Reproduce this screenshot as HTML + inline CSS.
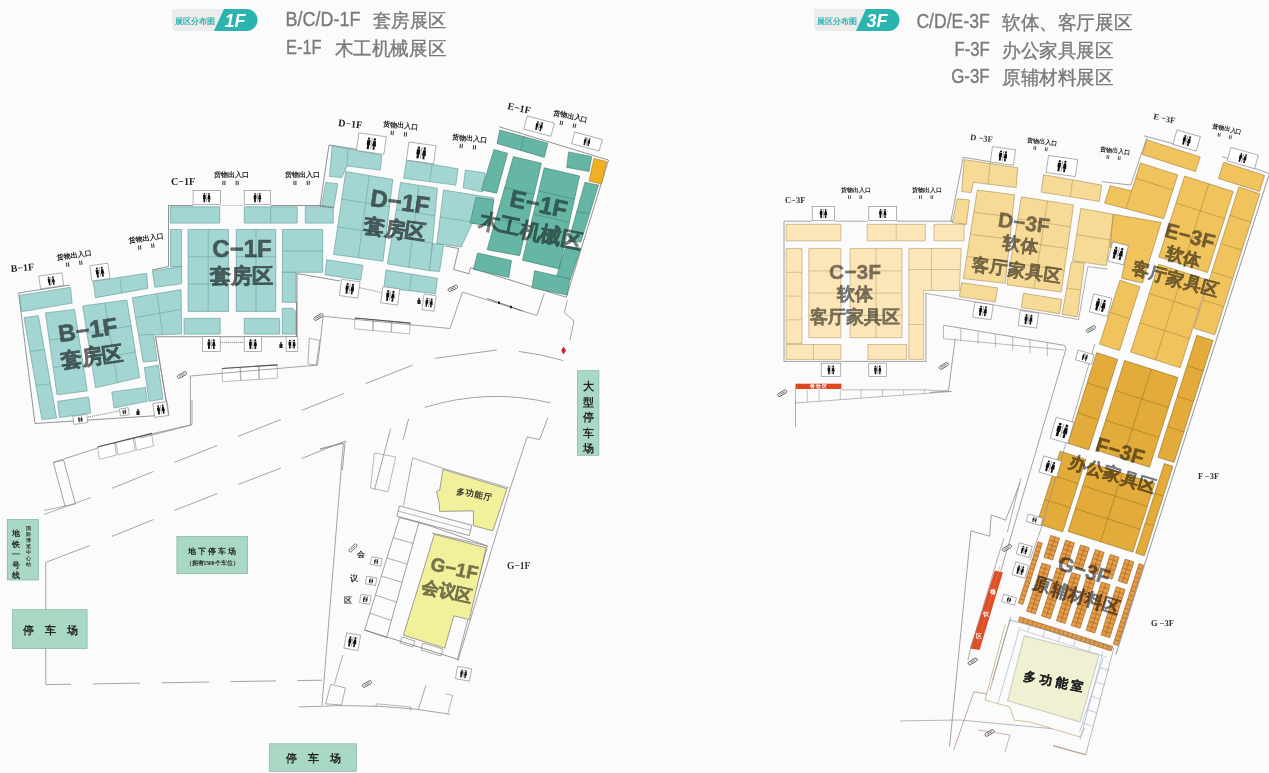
<!DOCTYPE html>
<html><head><meta charset="utf-8"><style>
html,body{margin:0;padding:0;background:#fbfbfb;}
body{width:1269px;height:773px;overflow:hidden;position:relative;font-family:"Liberation Sans",sans-serif;}
svg{position:absolute;left:0;top:0;}
</style></head><body>
<svg width="1269" height="773" viewBox="0 0 1269 773">
<rect x="0" y="0" width="1269" height="773" fill="#fbfbfb" stroke="none" stroke-width="0.6" />
<path d="M172,9 L228,9 L218,31 L177,31 Q172,31 172,26 L172,9 Z" fill="#ececec"/>
<path d="M214,31 L224,9 L246.5,9 A11,11 0 0 1 246.5,31 Z" fill="#2bb3ae"/>
<text x="195" y="23.5" font-size="8" fill="#2bb3ae" font-weight="bold" text-anchor="middle" font-family="Liberation Sans" >展区分布图</text>
<text x="235" y="27" font-size="18" fill="#ffffff" font-weight="bold" text-anchor="middle" font-family="Liberation Sans" font-style="italic">1F</text>
<text x="285.5" y="26" font-size="20.5" fill="#7a7a7a" font-weight="normal" text-anchor="start" font-family="Liberation Sans" stroke="#7a7a7a" stroke-width="0.35" textLength="75" lengthAdjust="spacingAndGlyphs">B/C/D-1F</text>
<text x="373" y="26.5" font-size="18.5" fill="#7a7a7a" font-weight="normal" text-anchor="start" font-family="Liberation Sans" stroke="#7a7a7a" stroke-width="0.35" textLength="73" lengthAdjust="spacingAndGlyphs">套房展区</text>
<text x="286" y="54" font-size="20.5" fill="#7a7a7a" font-weight="normal" text-anchor="start" font-family="Liberation Sans" stroke="#7a7a7a" stroke-width="0.35" textLength="35.5" lengthAdjust="spacingAndGlyphs">E-1F</text>
<text x="334.5" y="54.5" font-size="18.5" fill="#7a7a7a" font-weight="normal" text-anchor="start" font-family="Liberation Sans" stroke="#7a7a7a" stroke-width="0.35" textLength="111.7" lengthAdjust="spacingAndGlyphs">木工机械展区</text>
<path d="M814,9 L870,9 L860,31 L819,31 Q814,31 814,26 L814,9 Z" fill="#ececec"/>
<path d="M856,31 L866,9 L888.5,9 A11,11 0 0 1 888.5,31 Z" fill="#2bb3ae"/>
<text x="837" y="23.5" font-size="8" fill="#2bb3ae" font-weight="bold" text-anchor="middle" font-family="Liberation Sans" >展区分布图</text>
<text x="877" y="27" font-size="18" fill="#ffffff" font-weight="bold" text-anchor="middle" font-family="Liberation Sans" font-style="italic">3F</text>
<text x="916.4" y="28" font-size="20.5" fill="#7a7a7a" font-weight="normal" text-anchor="start" font-family="Liberation Sans" stroke="#7a7a7a" stroke-width="0.35" textLength="73.3" lengthAdjust="spacingAndGlyphs">C/D/E-3F</text>
<text x="1002" y="28.5" font-size="18.5" fill="#7a7a7a" font-weight="normal" text-anchor="start" font-family="Liberation Sans" stroke="#7a7a7a" stroke-width="0.35" textLength="130.3" lengthAdjust="spacingAndGlyphs">软体、客厅展区</text>
<text x="954.5" y="55.8" font-size="20.5" fill="#7a7a7a" font-weight="normal" text-anchor="start" font-family="Liberation Sans" stroke="#7a7a7a" stroke-width="0.35" textLength="35.2" lengthAdjust="spacingAndGlyphs">F-3F</text>
<text x="1002" y="56.5" font-size="18.5" fill="#7a7a7a" font-weight="normal" text-anchor="start" font-family="Liberation Sans" stroke="#7a7a7a" stroke-width="0.35" textLength="111.7" lengthAdjust="spacingAndGlyphs">办公家具展区</text>
<text x="951.2" y="82.7" font-size="20.5" fill="#7a7a7a" font-weight="normal" text-anchor="start" font-family="Liberation Sans" stroke="#7a7a7a" stroke-width="0.35" textLength="38.5" lengthAdjust="spacingAndGlyphs">G-3F</text>
<text x="1002" y="83.5" font-size="18.5" fill="#7a7a7a" font-weight="normal" text-anchor="start" font-family="Liberation Sans" stroke="#7a7a7a" stroke-width="0.35" textLength="111.7" lengthAdjust="spacingAndGlyphs">原辅材料展区</text>
<polyline points="18.6,293 35,423.5 168.5,414.9 155.5,336.7" fill="none" stroke="#777" stroke-width="0.8"/>
<polyline points="18.6,293 70,285" fill="none" stroke="#777" stroke-width="0.8"/>
<polygon points="19.5,295.4 70.5,287.3 72.2,303.1 21.5,311.7" fill="#a3d6d3" stroke="#5a9896" stroke-width="0.6" />
<polygon points="24,317.5 38.4,315.7 56.6,418 41.9,419.5" fill="#a3d6d3" stroke="#5a9896" stroke-width="0.6" />
<line x1="30" y1="351.5" x2="44.5" y2="349.8" stroke="#5a9896" stroke-width="0.5"/>
<line x1="35.9" y1="385.5" x2="50.5" y2="383.9" stroke="#5a9896" stroke-width="0.5"/>
<polygon points="45.4,312.9 74.5,309.4 87.3,390.9 57,394.8" fill="#a3d6d3" stroke="#5a9896" stroke-width="0.6" />
<line x1="49.3" y1="340.2" x2="78.8" y2="336.6" stroke="#5a9896" stroke-width="0.5"/>
<line x1="53.1" y1="367.5" x2="83" y2="363.7" stroke="#5a9896" stroke-width="0.5"/>
<polygon points="82.7,305.9 126.9,300.1 139.7,377.6 95.5,387.8" fill="#a3d6d3" stroke="#5a9896" stroke-width="0.6" />
<line x1="104.8" y1="303" x2="117.6" y2="382.7" stroke="#5a9896" stroke-width="0.5"/>
<line x1="87" y1="333.2" x2="131.2" y2="325.9" stroke="#5a9896" stroke-width="0.5"/>
<line x1="91.2" y1="360.5" x2="135.4" y2="351.8" stroke="#5a9896" stroke-width="0.5"/>
<polygon points="93.1,281.4 146.7,273.3 147.8,288.4 95.5,297.7" fill="#a3d6d3" stroke="#5a9896" stroke-width="0.6" />
<line x1="119.9" y1="277.4" x2="121.7" y2="293" stroke="#5a9896" stroke-width="0.5"/>
<polygon points="132.2,297.8 181.1,289.6 181.6,333.9 153.6,335.1 157.1,360.7 143.1,361.9" fill="#a3d6d3" stroke="#5a9896" stroke-width="0.6" />
<line x1="157.1" y1="294.3" x2="162.5" y2="333.9" stroke="#5a9896" stroke-width="0.5"/>
<line x1="135" y1="317.6" x2="181.1" y2="309.4" stroke="#5a9896" stroke-width="0.5"/>
<line x1="138.5" y1="335.1" x2="153.6" y2="334.4" stroke="#5a9896" stroke-width="0.5"/>
<polygon points="57.7,401.3 88.5,397.1 90.8,413 59.4,417.6" fill="#a3d6d3" stroke="#5a9896" stroke-width="0.6" />
<polygon points="111.8,392 145.5,387.4 147.2,401.3 114.1,407.9" fill="#a3d6d3" stroke="#5a9896" stroke-width="0.6" />
<polygon points="144.4,367.6 158.3,365.2 163,399 149,401.3" fill="#a3d6d3" stroke="#5a9896" stroke-width="0.6" />
<polygon points="152.4,271 181.6,266.3 181.6,283.8 154.8,287.3" fill="#a3d6d3" stroke="#5a9896" stroke-width="0.6" />
<g transform="rotate(-8 51.2 280.9)">
<rect x="39.6" y="274.4" width="23.3" height="12.9" fill="#ffffff" stroke="#808080" stroke-width="0.6" />
<circle cx="49.1" cy="277.4" r="0.9" fill="#111"/>
<path d="M47.9,278.6 h2.4 v3.6 h-0.4 v3 h-1.5 v-3 h-0.4 Z" fill="#111"/>
<circle cx="53.4" cy="277.4" r="0.9" fill="#111"/>
<path d="M52.5,278.6 L54.2,278.6 L54.8,282.6 L51.9,282.6 Z" fill="#111"/>
<rect x="52.7" y="282.6" width="1.4" height="2.6" fill="#111"/>
<line x1="51.2" y1="276.6" x2="51.2" y2="285.1" stroke="#333" stroke-width="0.4"/>
</g>
<g transform="rotate(-8 99.9 272.1)">
<rect x="90.8" y="264.4" width="18.2" height="15.4" fill="#ffffff" stroke="#808080" stroke-width="0.6" />
<circle cx="97.4" cy="268" r="1" fill="#111"/>
<path d="M95.9,269.4 h2.8 v4.3 h-0.5 v3.6 h-1.8 v-3.6 h-0.5 Z" fill="#111"/>
<circle cx="102.4" cy="268" r="1" fill="#111"/>
<path d="M101.4,269.4 L103.5,269.4 L104.2,274.1 L100.7,274.1 Z" fill="#111"/>
<rect x="101.6" y="274.1" width="1.6" height="3" fill="#111"/>
<line x1="99.9" y1="267" x2="99.9" y2="277.2" stroke="#333" stroke-width="0.4"/>
</g>
<g transform="rotate(-8 80.3 419.4)">
<rect x="73.3" y="415.3" width="14" height="8.2" fill="#ffffff" stroke="#808080" stroke-width="0.6" />
<circle cx="78.9" cy="417.2" r="0.5" fill="#111"/>
<path d="M78.2,417.9 h1.5 v2.3 h-0.3 v1.9 h-1 v-1.9 h-0.3 Z" fill="#111"/>
<circle cx="81.7" cy="417.2" r="0.5" fill="#111"/>
<path d="M81.1,417.9 L82.2,417.9 L82.6,420.5 L80.7,420.5 Z" fill="#111"/>
<rect x="81.2" y="420.5" width="0.9" height="1.6" fill="#111"/>
<line x1="80.3" y1="416.7" x2="80.3" y2="422.1" stroke="#333" stroke-width="0.4"/>
</g>
<g transform="rotate(-8 124.4 411.8)">
<rect x="119.9" y="408.3" width="8.9" height="7" fill="#ffffff" stroke="#808080" stroke-width="0.6" />
<circle cx="123.2" cy="410" r="0.5" fill="#111"/>
<path d="M122.5,410.6 h1.3 v1.9 h-0.2 v1.6 h-0.8 v-1.6 h-0.2 Z" fill="#111"/>
<circle cx="125.5" cy="410" r="0.5" fill="#111"/>
<path d="M125,410.6 L126,410.6 L126.3,412.7 L124.7,412.7 Z" fill="#111"/>
<rect x="125.1" y="412.7" width="0.7" height="1.4" fill="#111"/>
<line x1="124.4" y1="409.5" x2="124.4" y2="414.1" stroke="#333" stroke-width="0.4"/>
</g>
<g transform="rotate(-8 160.9 409.5)">
<rect x="153.7" y="402.5" width="14.4" height="14" fill="#ffffff" stroke="#808080" stroke-width="0.6" />
<circle cx="158.6" cy="405.8" r="0.9" fill="#111"/>
<path d="M157.3,407 h2.6 v3.9 h-0.5 v3.2 h-1.7 v-3.2 h-0.5 Z" fill="#111"/>
<circle cx="163.2" cy="405.8" r="0.9" fill="#111"/>
<path d="M162.3,407 L164.1,407 L164.8,411.3 L161.6,411.3 Z" fill="#111"/>
<rect x="162.5" y="411.3" width="1.5" height="2.8" fill="#111"/>
<line x1="160.9" y1="404.9" x2="160.9" y2="414.1" stroke="#333" stroke-width="0.4"/>
</g>
<text x="11" y="272" font-size="10" fill="#222" font-weight="bold" text-anchor="start" font-family="Liberation Serif" transform="rotate(-5 11 272)" >B−1F</text>
<g transform="rotate(-8 57 260)">
<text x="57" y="260" font-size="7" fill="#222" font-weight="bold" font-family="Liberation Serif">货物出入口</text>
<rect x="65.4" y="263.9" width="1" height="4.3" fill="#333"/>
<rect x="67.4" y="263.9" width="1" height="4.3" fill="#333"/>
<rect x="78.7" y="263.9" width="1" height="4.3" fill="#333"/>
<rect x="80.7" y="263.9" width="1" height="4.3" fill="#333"/>
</g>
<g transform="rotate(-8 129 243)">
<text x="129" y="243" font-size="7" fill="#222" font-weight="bold" font-family="Liberation Serif">货物出入口</text>
<rect x="137.4" y="246.8" width="1" height="4.3" fill="#333"/>
<rect x="139.4" y="246.8" width="1" height="4.3" fill="#333"/>
<rect x="150.7" y="246.8" width="1" height="4.3" fill="#333"/>
<rect x="152.7" y="246.8" width="1" height="4.3" fill="#333"/>
</g>
<text x="112" y="318" font-size="1" fill="#6e6e6e" font-weight="normal" text-anchor="start" font-family="Liberation Sans" ></text>
<text x="89" y="338" font-size="24" fill="#6a6a6a" font-weight="bold" text-anchor="middle" font-family="Liberation Sans" transform="rotate(-8 89 338)" stroke="#6a6a6a" stroke-width="0.6" style="mix-blend-mode:multiply">B−1F</text>
<text x="93" y="364" font-size="21" fill="#6a6a6a" font-weight="bold" text-anchor="middle" font-family="Liberation Sans" transform="rotate(-8 93 364)" stroke="#6a6a6a" stroke-width="0.6" style="mix-blend-mode:multiply">套房区</text>
<polyline points="168.5,205.5 168.5,266.5 152,270" fill="none" stroke="#777" stroke-width="0.8"/>
<polyline points="168.5,205.5 193,205.5" fill="none" stroke="#777" stroke-width="0.8"/>
<polyline points="221,205.5 244,205.5" fill="none" stroke="#bbb" stroke-width="0.6"/>
<polyline points="271,205.5 334,205.5" fill="none" stroke="#777" stroke-width="0.8"/>
<polygon points="170.3,206.8 219.8,206.8 219.8,223.1 170.3,223.1" fill="#a3d6d3" stroke="#5a9896" stroke-width="0.6" />
<polygon points="244.2,206.8 297.2,206.8 297.2,223.1 244.2,223.1" fill="#a3d6d3" stroke="#5a9896" stroke-width="0.6" />
<line x1="270.7" y1="206.8" x2="270.7" y2="223.1" stroke="#5a9896" stroke-width="0.5"/>
<polygon points="305.3,206.8 333.3,206.8 333.3,223.1 305.3,223.1" fill="#a3d6d3" stroke="#5a9896" stroke-width="0.6" />
<polygon points="170.5,229.5 181.5,229.5 181.5,266.5 170.5,266.5" fill="#a3d6d3" stroke="#5a9896" stroke-width="0.6" />
<polygon points="188.1,229.5 228.4,229.5 228.4,311.4 188.1,311.4" fill="#a3d6d3" stroke="#5a9896" stroke-width="0.6" />
<line x1="208.2" y1="229.5" x2="208.2" y2="311.4" stroke="#5a9896" stroke-width="0.5"/>
<line x1="188.1" y1="256.8" x2="228.4" y2="256.8" stroke="#5a9896" stroke-width="0.5"/>
<line x1="188.1" y1="284.1" x2="228.4" y2="284.1" stroke="#5a9896" stroke-width="0.5"/>
<polygon points="236.2,229.5 275.8,229.5 275.8,311.4 236.2,311.4" fill="#a3d6d3" stroke="#5a9896" stroke-width="0.6" />
<line x1="256" y1="229.5" x2="256" y2="311.4" stroke="#5a9896" stroke-width="0.5"/>
<line x1="236.2" y1="256.8" x2="275.8" y2="256.8" stroke="#5a9896" stroke-width="0.5"/>
<line x1="236.2" y1="284.1" x2="275.8" y2="284.1" stroke="#5a9896" stroke-width="0.5"/>
<polygon points="282.4,229.5 322.7,229.5 322.7,272.3 282.4,272.3" fill="#a3d6d3" stroke="#5a9896" stroke-width="0.6" />
<line x1="282.4" y1="250.9" x2="322.7" y2="250.9" stroke="#5a9896" stroke-width="0.5"/>
<polygon points="282.3,272.3 296,272.3 296,302.3 282.3,302.3" fill="#a3d6d3" stroke="#5a9896" stroke-width="0.6" />
<polygon points="184,318.4 220.2,318.4 220.2,334.1 184,334.1" fill="#a3d6d3" stroke="#5a9896" stroke-width="0.6" />
<polygon points="244.2,318.4 279.7,318.4 279.7,334.1 244.2,334.1" fill="#a3d6d3" stroke="#5a9896" stroke-width="0.6" />
<polygon points="282.3,308.3 293,308.3 296,312 296,334.1 282.3,334.1" fill="#a3d6d3" stroke="#5a9896" stroke-width="0.6" />
<polyline points="155.5,336.7 296.5,336.7 296.5,302" fill="none" stroke="#777" stroke-width="0.8"/>
<g>
<rect x="193.1" y="190.5" width="27.2" height="14.1" fill="#ffffff" stroke="#808080" stroke-width="0.6" />
<circle cx="204.4" cy="193.8" r="0.9" fill="#111"/>
<path d="M203.1,195 h2.6 v3.9 h-0.5 v3.3 h-1.7 v-3.3 h-0.5 Z" fill="#111"/>
<circle cx="209" cy="193.8" r="0.9" fill="#111"/>
<path d="M208.1,195 L210,195 L210.6,199.4 L207.4,199.4 Z" fill="#111"/>
<rect x="208.3" y="199.4" width="1.5" height="2.8" fill="#111"/>
<line x1="206.7" y1="192.9" x2="206.7" y2="202.2" stroke="#333" stroke-width="0.4"/>
</g>
<g>
<rect x="244.2" y="190.5" width="26.4" height="14.1" fill="#ffffff" stroke="#808080" stroke-width="0.6" />
<circle cx="255.1" cy="193.8" r="0.9" fill="#111"/>
<path d="M253.8,195 h2.6 v3.9 h-0.5 v3.3 h-1.7 v-3.3 h-0.5 Z" fill="#111"/>
<circle cx="259.7" cy="193.8" r="0.9" fill="#111"/>
<path d="M258.8,195 L260.7,195 L261.3,199.4 L258.1,199.4 Z" fill="#111"/>
<rect x="259" y="199.4" width="1.5" height="2.8" fill="#111"/>
<line x1="257.4" y1="192.9" x2="257.4" y2="202.2" stroke="#333" stroke-width="0.4"/>
</g>
<g>
<rect x="202.6" y="336.7" width="17.6" height="14.8" fill="#ffffff" stroke="#808080" stroke-width="0.6" />
<circle cx="209" cy="340.2" r="1" fill="#111"/>
<path d="M207.6,341.5 h2.7 v4.1 h-0.5 v3.4 h-1.8 v-3.4 h-0.5 Z" fill="#111"/>
<circle cx="213.8" cy="340.2" r="1" fill="#111"/>
<path d="M212.9,341.5 L214.8,341.5 L215.5,346.1 L212.2,346.1 Z" fill="#111"/>
<rect x="213.1" y="346.1" width="1.6" height="2.9" fill="#111"/>
<line x1="211.4" y1="339.2" x2="211.4" y2="349" stroke="#333" stroke-width="0.4"/>
</g>
<g>
<rect x="244.2" y="336.7" width="17.4" height="14.8" fill="#ffffff" stroke="#808080" stroke-width="0.6" />
<circle cx="250.5" cy="340.2" r="1" fill="#111"/>
<path d="M249.1,341.5 h2.7 v4.1 h-0.5 v3.4 h-1.8 v-3.4 h-0.5 Z" fill="#111"/>
<circle cx="255.3" cy="340.2" r="1" fill="#111"/>
<path d="M254.4,341.5 L256.3,341.5 L257,346.1 L253.7,346.1 Z" fill="#111"/>
<rect x="254.6" y="346.1" width="1.6" height="2.9" fill="#111"/>
<line x1="252.9" y1="339.2" x2="252.9" y2="349" stroke="#333" stroke-width="0.4"/>
</g>
<g>
<rect x="286.1" y="336.7" width="11.7" height="14.8" fill="#ffffff" stroke="#808080" stroke-width="0.6" />
<circle cx="289.8" cy="340.6" r="0.9" fill="#111"/>
<path d="M288.5,341.7 h2.5 v3.7 h-0.4 v3.1 h-1.6 v-3.1 h-0.4 Z" fill="#111"/>
<circle cx="294.1" cy="340.6" r="0.9" fill="#111"/>
<path d="M293.3,341.7 L295,341.7 L295.6,345.9 L292.7,345.9 Z" fill="#111"/>
<rect x="293.4" y="345.9" width="1.4" height="2.6" fill="#111"/>
<line x1="292" y1="339.7" x2="292" y2="348.5" stroke="#333" stroke-width="0.4"/>
</g>
<text x="171" y="185" font-size="10" fill="#222" font-weight="bold" text-anchor="start" font-family="Liberation Serif" >C−1F</text>
<g>
<text x="214" y="177" font-size="7" fill="#222" font-weight="bold" font-family="Liberation Serif">货物出入口</text>
<rect x="222.4" y="180.8" width="1" height="4.3" fill="#333"/>
<rect x="224.4" y="180.8" width="1" height="4.3" fill="#333"/>
<rect x="235.7" y="180.8" width="1" height="4.3" fill="#333"/>
<rect x="237.7" y="180.8" width="1" height="4.3" fill="#333"/>
</g>
<g>
<text x="285" y="177" font-size="7" fill="#222" font-weight="bold" font-family="Liberation Serif">货物出入口</text>
<rect x="293.4" y="180.8" width="1" height="4.3" fill="#333"/>
<rect x="295.4" y="180.8" width="1" height="4.3" fill="#333"/>
<rect x="306.7" y="180.8" width="1" height="4.3" fill="#333"/>
<rect x="308.7" y="180.8" width="1" height="4.3" fill="#333"/>
</g>
<text x="242" y="257" font-size="24" fill="#6a6a6a" font-weight="bold" text-anchor="middle" font-family="Liberation Sans" stroke="#6a6a6a" stroke-width="0.6" style="mix-blend-mode:multiply">C−1F</text>
<text x="241" y="283" font-size="21" fill="#6a6a6a" font-weight="bold" text-anchor="middle" font-family="Liberation Sans" stroke="#6a6a6a" stroke-width="0.6" style="mix-blend-mode:multiply">套房区</text>
<polyline points="358,149.5 329,145 320,206 334,208" fill="none" stroke="#777" stroke-width="0.8"/>
<polygon points="332.2,145.7 381.9,155.2 380.3,170.1 347.2,166.1 341.7,177.5 329.5,176.4" fill="#a3d6d3" stroke="#5a9896" stroke-width="0.6" />
<line x1="348" y1="148.7" x2="347" y2="166" stroke="#5a9896" stroke-width="0.5"/>
<polygon points="325.7,182.4 337.9,183.7 333.9,206.8 321.6,205.5" fill="#a3d6d3" stroke="#5a9896" stroke-width="0.6" />
<polygon points="345.8,171.5 392.8,179.6 383,261.2 333.6,254.4" fill="#a3d6d3" stroke="#5a9896" stroke-width="0.6" />
<line x1="369.3" y1="175.6" x2="358.3" y2="257.8" stroke="#5a9896" stroke-width="0.5"/>
<line x1="341.7" y1="199.1" x2="389.5" y2="206.8" stroke="#5a9896" stroke-width="0.5"/>
<line x1="337.7" y1="226.8" x2="386.3" y2="234" stroke="#5a9896" stroke-width="0.5"/>
<polygon points="400.7,182.4 437.4,188.3 430,270.7 387.4,263.9" fill="#a3d6d3" stroke="#5a9896" stroke-width="0.6" />
<line x1="419" y1="185.4" x2="408.7" y2="267.3" stroke="#5a9896" stroke-width="0.5"/>
<line x1="396.3" y1="209.6" x2="434.9" y2="215.8" stroke="#5a9896" stroke-width="0.5"/>
<line x1="391.8" y1="236.7" x2="432.5" y2="243.2" stroke="#5a9896" stroke-width="0.5"/>
<polygon points="406.4,160.1 458,168.8 455.8,185.1 403.7,178.3" fill="#a3d6d3" stroke="#5a9896" stroke-width="0.6" />
<line x1="432.2" y1="164.4" x2="429.8" y2="181.7" stroke="#5a9896" stroke-width="0.5"/>
<polygon points="465.3,170.1 485.2,172.9 482.5,191.9 463.2,187.8" fill="#a3d6d3" stroke="#5a9896" stroke-width="0.6" />
<polygon points="443.6,190 493.9,198.1 489.8,225.8 472.1,223.1 461.3,247 436.8,243.5" fill="#a3d6d3" stroke="#5a9896" stroke-width="0.6" />
<line x1="440" y1="217" x2="472" y2="222" stroke="#5a9896" stroke-width="0.5"/>
<polygon points="432.7,243.5 443.6,244.8 439.5,271.5 429.2,270.7" fill="#a3d6d3" stroke="#5a9896" stroke-width="0.6" />
<polygon points="326.8,259.8 362.9,265.2 360.7,280.2 324.9,274.7" fill="#a3d6d3" stroke="#5a9896" stroke-width="0.6" />
<polygon points="386,270.1 437.4,278.3 435.5,293.7 383.8,287.8" fill="#a3d6d3" stroke="#5a9896" stroke-width="0.6" />
<line x1="411.7" y1="274.2" x2="409.6" y2="290.8" stroke="#5a9896" stroke-width="0.5"/>
<g transform="rotate(8 371.4 143.7)">
<rect x="357.5" y="134.8" width="27.7" height="17.7" fill="#ffffff" stroke="#808080" stroke-width="0.6" />
<circle cx="368.4" cy="139" r="1.2" fill="#111"/>
<path d="M366.8,140.5 h3.3 v4.9 h-0.6 v4.1 h-2.1 v-4.1 h-0.6 Z" fill="#111"/>
<circle cx="374.3" cy="139" r="1.2" fill="#111"/>
<path d="M373.1,140.5 L375.4,140.5 L376.3,146 L372.3,146 Z" fill="#111"/>
<rect x="373.3" y="146" width="1.9" height="3.5" fill="#111"/>
<line x1="371.4" y1="137.8" x2="371.4" y2="149.5" stroke="#333" stroke-width="0.4"/>
</g>
<g transform="rotate(8 421.2 152.9)">
<rect x="407.5" y="143.8" width="27.4" height="18.2" fill="#ffffff" stroke="#808080" stroke-width="0.6" />
<circle cx="418.2" cy="148.1" r="1.2" fill="#111"/>
<path d="M416.5,149.7 h3.4 v5 h-0.6 v4.2 h-2.2 v-4.2 h-0.6 Z" fill="#111"/>
<circle cx="424.2" cy="148.1" r="1.2" fill="#111"/>
<path d="M423,149.7 L425.4,149.7 L426.2,155.3 L422.2,155.3 Z" fill="#111"/>
<rect x="423.2" y="155.3" width="1.9" height="3.6" fill="#111"/>
<line x1="421.2" y1="146.9" x2="421.2" y2="158.9" stroke="#333" stroke-width="0.4"/>
</g>
<g transform="rotate(8 349.7 288.7)">
<rect x="340.4" y="280.5" width="18.6" height="16.4" fill="#ffffff" stroke="#808080" stroke-width="0.6" />
<circle cx="347" cy="284.4" r="1.1" fill="#111"/>
<path d="M345.5,285.8 h3 v4.5 h-0.5 v3.8 h-1.9 v-3.8 h-0.5 Z" fill="#111"/>
<circle cx="352.4" cy="284.4" r="1.1" fill="#111"/>
<path d="M351.3,285.8 L353.5,285.8 L354.2,290.9 L350.6,290.9 Z" fill="#111"/>
<rect x="351.5" y="290.9" width="1.7" height="3.2" fill="#111"/>
<line x1="349.7" y1="283.3" x2="349.7" y2="294.1" stroke="#333" stroke-width="0.4"/>
</g>
<g transform="rotate(8 390.2 295.9)">
<rect x="381.7" y="287.7" width="17.1" height="16.3" fill="#ffffff" stroke="#808080" stroke-width="0.6" />
<circle cx="387.6" cy="291.5" r="1.1" fill="#111"/>
<path d="M386.1,292.9 h3 v4.5 h-0.5 v3.8 h-1.9 v-3.8 h-0.5 Z" fill="#111"/>
<circle cx="392.9" cy="291.5" r="1.1" fill="#111"/>
<path d="M391.9,292.9 L394,292.9 L394.8,298 L391.1,298 Z" fill="#111"/>
<rect x="392.1" y="298" width="1.7" height="3.2" fill="#111"/>
<line x1="390.2" y1="290.5" x2="390.2" y2="301.2" stroke="#333" stroke-width="0.4"/>
</g>
<g transform="rotate(8 429.1 302.6)">
<rect x="423" y="294.8" width="12.1" height="15.6" fill="#ffffff" stroke="#808080" stroke-width="0.6" />
<circle cx="426.8" cy="299" r="0.9" fill="#111"/>
<path d="M425.5,300.1 h2.5 v3.8 h-0.5 v3.2 h-1.6 v-3.2 h-0.5 Z" fill="#111"/>
<circle cx="431.3" cy="299" r="0.9" fill="#111"/>
<path d="M430.4,300.1 L432.2,300.1 L432.9,304.4 L429.8,304.4 Z" fill="#111"/>
<rect x="430.6" y="304.4" width="1.5" height="2.7" fill="#111"/>
<line x1="429.1" y1="298.1" x2="429.1" y2="307.1" stroke="#333" stroke-width="0.4"/>
</g>
<g fill="#222"><circle cx="419" cy="299" r="0.9"/><rect x="417.4" y="300" width="3.2" height="4"/></g>
<polyline points="359.6,287.7 381.7,292.7" fill="none" stroke="#555" stroke-width="0.8" stroke-dasharray="1,1"/>
<polyline points="297,273.5 340,281" fill="none" stroke="#777" stroke-width="0.8"/>
<polyline points="297,273.5 297,336.7" fill="none" stroke="#777" stroke-width="0.8"/>
<text x="338" y="126" font-size="10" fill="#222" font-weight="bold" text-anchor="start" font-family="Liberation Serif" transform="rotate(6 338 126)" >D−1F</text>
<g transform="rotate(6 383 126)">
<text x="383" y="126" font-size="7" fill="#222" font-weight="bold" font-family="Liberation Serif">货物出入口</text>
<rect x="391.4" y="129.8" width="1" height="4.3" fill="#333"/>
<rect x="393.4" y="129.8" width="1" height="4.3" fill="#333"/>
<rect x="404.7" y="129.8" width="1" height="4.3" fill="#333"/>
<rect x="406.7" y="129.8" width="1" height="4.3" fill="#333"/>
</g>
<g transform="rotate(6 452 139)">
<text x="452" y="139" font-size="7" fill="#222" font-weight="bold" font-family="Liberation Serif">货物出入口</text>
<rect x="460.4" y="142.8" width="1" height="4.3" fill="#333"/>
<rect x="462.4" y="142.8" width="1" height="4.3" fill="#333"/>
<rect x="473.7" y="142.8" width="1" height="4.3" fill="#333"/>
<rect x="475.7" y="142.8" width="1" height="4.3" fill="#333"/>
</g>
<text x="399" y="210" font-size="24" fill="#6a6a6a" font-weight="bold" text-anchor="middle" font-family="Liberation Sans" transform="rotate(8 399 210)" stroke="#6a6a6a" stroke-width="0.6" style="mix-blend-mode:multiply">D−1F</text>
<text x="394" y="236" font-size="21" fill="#6a6a6a" font-weight="bold" text-anchor="middle" font-family="Liberation Sans" transform="rotate(8 394 236)" stroke="#6a6a6a" stroke-width="0.6" style="mix-blend-mode:multiply">套房区</text>
<polyline points="499,126.7 608.5,160.1 566.3,297.3 470.5,267.8 468.8,273.7 453.6,269.5 458.7,248.5 445.2,246" fill="none" stroke="#777" stroke-width="0.8"/>
<polygon points="499.8,130 547.9,143.2 544.3,157.4 497,143.4" fill="#66b6a5" stroke="#3d7a6c" stroke-width="0.6" />
<line x1="523.9" y1="136.6" x2="520.6" y2="150.4" stroke="#3d7a6c" stroke-width="0.5"/>
<polygon points="494,149.5 507.6,153.3 496.6,193.2 481.6,190" fill="#66b6a5" stroke="#3d7a6c" stroke-width="0.6" />
<polygon points="513.4,156.6 541.4,163.3 519.7,255.7 487.1,249.7" fill="#66b6a5" stroke="#3d7a6c" stroke-width="0.6" />
<line x1="504.6" y1="187.6" x2="534.2" y2="194.1" stroke="#3d7a6c" stroke-width="0.5"/>
<line x1="495.9" y1="218.7" x2="526.9" y2="224.9" stroke="#3d7a6c" stroke-width="0.5"/>
<polygon points="476,197.3 493.9,200 489.8,225.8 470,223" fill="#66b6a5" stroke="#3d7a6c" stroke-width="0.6" />
<polygon points="544.2,167.8 579.6,176 559.2,268.9 522.5,260.2" fill="#66b6a5" stroke="#3d7a6c" stroke-width="0.6" />
<line x1="538.8" y1="190.9" x2="574.5" y2="199.2" stroke="#3d7a6c" stroke-width="0.5"/>
<line x1="533.4" y1="214" x2="569.4" y2="222.4" stroke="#3d7a6c" stroke-width="0.5"/>
<line x1="527.9" y1="237.1" x2="564.3" y2="245.7" stroke="#3d7a6c" stroke-width="0.5"/>
<polygon points="584.9,182.4 598.5,185.1 580.8,242.1 568.6,240.9" fill="#66b6a5" stroke="#3d7a6c" stroke-width="0.6" />
<line x1="576.8" y1="211.7" x2="589.6" y2="213.6" stroke="#3d7a6c" stroke-width="0.5"/>
<polygon points="565.9,246.2 580.8,248.1 569.9,280.2 556.3,277.4" fill="#66b6a5" stroke="#3d7a6c" stroke-width="0.6" />
<polygon points="477.6,253 511.5,260.6 508.8,277.4 473.5,269.3" fill="#66b6a5" stroke="#3d7a6c" stroke-width="0.6" />
<polygon points="534.6,270.7 569.9,278.8 567.2,295.1 531.9,287.8" fill="#66b6a5" stroke="#3d7a6c" stroke-width="0.6" />
<polygon points="568.6,151.9 591.7,156.6 589,171.5 566.7,167.4" fill="#66b6a5" stroke="#3d7a6c" stroke-width="0.6" />
<polygon points="594,158.5 606.5,161.5 601.5,184 589,181" fill="#f0b024" stroke="#b07a10" stroke-width="0.6" />
<g transform="rotate(15 539.1 126.1)">
<rect x="525.1" y="119.3" width="28" height="13.6" fill="#ffffff" stroke="#808080" stroke-width="0.6" />
<circle cx="536.9" cy="122.5" r="0.9" fill="#111"/>
<path d="M535.6,123.7 h2.5 v3.8 h-0.4 v3.1 h-1.6 v-3.1 h-0.4 Z" fill="#111"/>
<circle cx="541.3" cy="122.5" r="0.9" fill="#111"/>
<path d="M540.4,123.7 L542.2,123.7 L542.9,127.9 L539.8,127.9 Z" fill="#111"/>
<rect x="540.6" y="127.9" width="1.4" height="2.7" fill="#111"/>
<line x1="539.1" y1="121.6" x2="539.1" y2="130.6" stroke="#333" stroke-width="0.4"/>
</g>
<g transform="rotate(15 587 141.6)">
<rect x="572.7" y="135.6" width="28.5" height="12" fill="#ffffff" stroke="#808080" stroke-width="0.6" />
<circle cx="585" cy="138.4" r="0.8" fill="#111"/>
<path d="M583.9,139.5 h2.2 v3.3 h-0.4 v2.8 h-1.4 v-2.8 h-0.4 Z" fill="#111"/>
<circle cx="588.9" cy="138.4" r="0.8" fill="#111"/>
<path d="M588.1,139.5 L589.7,139.5 L590.3,143.2 L587.6,143.2 Z" fill="#111"/>
<rect x="588.3" y="143.2" width="1.3" height="2.4" fill="#111"/>
<line x1="587" y1="137.6" x2="587" y2="145.6" stroke="#333" stroke-width="0.4"/>
</g>
<text x="507" y="109" font-size="10" fill="#222" font-weight="bold" text-anchor="start" font-family="Liberation Serif" transform="rotate(12 507 109)" >E−1F</text>
<g transform="rotate(12 553 115)">
<text x="553" y="115" font-size="7" fill="#222" font-weight="bold" font-family="Liberation Serif">货物出入口</text>
<rect x="561.4" y="118.8" width="1" height="4.3" fill="#333"/>
<rect x="563.4" y="118.8" width="1" height="4.3" fill="#333"/>
<rect x="574.7" y="118.8" width="1" height="4.3" fill="#333"/>
<rect x="576.7" y="118.8" width="1" height="4.3" fill="#333"/>
</g>
<text x="537" y="212" font-size="24" fill="#808080" font-weight="bold" text-anchor="middle" font-family="Liberation Sans" transform="rotate(12 537 212)" stroke="#808080" stroke-width="0.6" style="mix-blend-mode:multiply">E−1F</text>
<text x="529" y="238" font-size="21" fill="#808080" font-weight="bold" text-anchor="middle" font-family="Liberation Sans" transform="rotate(12 529 238)" stroke="#808080" stroke-width="0.6" style="mix-blend-mode:multiply">木工机械区</text>
<polyline points="192,400 192,424.7 152.1,433.8 97.5,448.1 53.3,462.4" fill="none" stroke="#8c8c8c" stroke-width="0.8"/>
<polygon points="53.3,462.4 63.7,460.3 75.4,504 65,506.1" fill="none" stroke="#8c8c8c" stroke-width="0.8" />
<polyline points="44.2,510.5 65,506.1" fill="none" stroke="#8c8c8c" stroke-width="0.7"/>
<polyline points="44.2,514.4 91,497.5" fill="none" stroke="#8c8c8c" stroke-width="0.7"/>
<polygon points="97.5,447 114.5,442.7 116.5,455 99.5,459.3" fill="#fff" stroke="#8c8c8c" stroke-width="0.6" />
<polygon points="116,442.5 133,438.2 135,450.5 118,454.8" fill="#fff" stroke="#8c8c8c" stroke-width="0.6" />
<polygon points="134.5,438 151.5,433.7 153.5,446 136.5,450.3" fill="#fff" stroke="#8c8c8c" stroke-width="0.6" />
<polygon points="222,368.5 240,367.3 240.5,380.5 222.5,381.7" fill="#fff" stroke="#8c8c8c" stroke-width="0.6" />
<polygon points="240.5,367.3 258.5,366.1 259,379.3 241,380.5" fill="#fff" stroke="#8c8c8c" stroke-width="0.6" />
<polygon points="259,366.1 277,364.9 277.5,378.1 259.5,379.3" fill="#fff" stroke="#8c8c8c" stroke-width="0.6" />
<polyline points="222,368.5 277.5,364.8" fill="none" stroke="#555" stroke-width="1.2"/>
<polygon points="355,318 373,319.7 372.5,330.5 354.5,328.8" fill="#fff" stroke="#8c8c8c" stroke-width="0.6" />
<polygon points="373.5,319.7 391.5,321.4 391,332.2 373,330.5" fill="#fff" stroke="#8c8c8c" stroke-width="0.6" />
<polygon points="392,321.4 410,323.1 409.5,333.9 391.5,332.2" fill="#fff" stroke="#8c8c8c" stroke-width="0.6" />
<polyline points="355,318 410.5,323.1" fill="none" stroke="#555" stroke-width="1.2"/>
<polyline points="97.5,447 152,433.3" fill="none" stroke="#555" stroke-width="1.2"/>
<polyline points="111.8,488.4 153.4,471.5" fill="none" stroke="#8c8c8c" stroke-width="0.8"/>
<polyline points="174.3,462.4 217.2,445.5" fill="none" stroke="#8c8c8c" stroke-width="0.8"/>
<polyline points="238,436.4 280.9,419.5" fill="none" stroke="#8c8c8c" stroke-width="0.8"/>
<polyline points="301.7,410.4 343.8,393.6" fill="none" stroke="#8c8c8c" stroke-width="0.8"/>
<polyline points="365.8,383.6 412.7,365.1" fill="none" stroke="#8c8c8c" stroke-width="0.8"/>
<polyline points="434.8,358.3 496.8,350" fill="none" stroke="#8c8c8c" stroke-width="0.8"/>
<polyline points="111.8,536.5 153.4,519.6" fill="none" stroke="#8c8c8c" stroke-width="0.8"/>
<polyline points="174.3,510.5 217.2,493.6" fill="none" stroke="#8c8c8c" stroke-width="0.8"/>
<polyline points="238,484.5 280.9,468.1" fill="none" stroke="#8c8c8c" stroke-width="0.8"/>
<polyline points="301.7,458.5 345.2,441" fill="none" stroke="#8c8c8c" stroke-width="0.8"/>
<path d="M518.9,351.4 Q541,354 563,360.5" fill="none" stroke="#8c8c8c" stroke-width="0.8"/>
<path d="M425.1,407.3 Q488,388 550.6,402.9" fill="none" stroke="#8c8c8c" stroke-width="0.8"/>
<polyline points="345.2,441 342.4,470" fill="none" stroke="#8c8c8c" stroke-width="0.8"/>
<polyline points="45.5,562.5 89.7,545.6" fill="none" stroke="#8c8c8c" stroke-width="0.8"/>
<polyline points="45.8,562.5 45.8,684.2" fill="none" stroke="#8c8c8c" stroke-width="0.8"/>
<polyline points="45.8,684.6 71,684.2" fill="none" stroke="#8c8c8c" stroke-width="0.8"/>
<polyline points="92.7,683.9 140,683.1" fill="none" stroke="#8c8c8c" stroke-width="0.8"/>
<polyline points="161.6,682.8 209,682" fill="none" stroke="#8c8c8c" stroke-width="0.8"/>
<polyline points="230.6,681.6 276,680.9" fill="none" stroke="#8c8c8c" stroke-width="0.8"/>
<polyline points="297.4,680.6 322,680.2" fill="none" stroke="#8c8c8c" stroke-width="0.8"/>
<polyline points="155.5,336.7 168.5,414.9" fill="none" stroke="#8c8c8c" stroke-width="0.8"/>
<polyline points="190.4,376 190.4,425.2 140,438.1" fill="none" stroke="#8c8c8c" stroke-width="0.8"/>
<polyline points="190.4,376 317.6,365.1 323.1,316.3 450,328.5 462.4,292.1 536.8,315.5 544.3,293.4" fill="none" stroke="#8c8c8c" stroke-width="0.8"/>
<polyline points="567.2,300.3 564.4,312.7 574,321 569.9,340.3" fill="none" stroke="#8c8c8c" stroke-width="0.8"/>
<polygon points="309.3,338.4 319.8,340.3 316.2,365.1 307.9,363.8" fill="none" stroke="#8c8c8c" stroke-width="0.7" />
<path d="M563.6,346.5 L566,350.5 L563.6,354.5 L561.2,350.5 Z" fill="#d0202a"/>
<polyline points="547.9,417.5 539.6,439.6 527.2,436.9 510.3,488 457.9,660.8" fill="none" stroke="#8c8c8c" stroke-width="0.8"/>
<polyline points="390.7,428.6 374.4,489.9" fill="none" stroke="#8c8c8c" stroke-width="0.8"/>
<polyline points="408.6,418.9 403.1,439.6" fill="none" stroke="#8c8c8c" stroke-width="0.8"/>
<polyline points="320,449 343.3,443.3 322,705" fill="none" stroke="#8c8c8c" stroke-width="0.8"/>
<polygon points="374.4,453 395.7,456.9 388,491.8 370.5,488" fill="none" stroke="#8c8c8c" stroke-width="0.6" />
<polyline points="412.6,457.8 403.5,505.4" fill="none" stroke="#8c8c8c" stroke-width="0.7"/>
<polyline points="412.6,457.8 442.3,468.1 509.6,488.1" fill="none" stroke="#8c8c8c" stroke-width="0.7"/>
<polygon points="399.5,505.9 471.9,525.3 469.3,535.6 396.9,516.2" fill="none" stroke="#777" stroke-width="0.7" />
<polyline points="398,511 470.5,530.5" fill="none" stroke="#777" stroke-width="0.5"/>
<polygon points="399.5,517.5 418.9,522.7 386.5,637.7 364.6,630" fill="none" stroke="#777" stroke-width="0.7" />
<polyline points="393.2,537.8 413.1,543.4" fill="none" stroke="#777" stroke-width="0.6"/>
<polyline points="386.9,558 407.2,564.1" fill="none" stroke="#777" stroke-width="0.6"/>
<polyline points="381.3,576 402.1,582.5" fill="none" stroke="#777" stroke-width="0.6"/>
<polyline points="375.4,595.1 396.5,602.1" fill="none" stroke="#777" stroke-width="0.6"/>
<polyline points="369.8,613.1 391.4,620.5" fill="none" stroke="#777" stroke-width="0.6"/>
<polyline points="418.9,522.7 431.8,526.5 487.4,545.9 457.7,658.4" fill="none" stroke="#777" stroke-width="0.7"/>
<polyline points="364.6,630 459,659.7" fill="none" stroke="#777" stroke-width="0.8"/>
<polyline points="431.8,533 487.4,545.9" fill="none" stroke="#777" stroke-width="0.7"/>
<polygon points="402,637 415,641 413,647 400,643" fill="none" stroke="#777" stroke-width="0.6" />
<polygon points="423,643 443,649 441,656 421,650" fill="none" stroke="#777" stroke-width="0.6" />
<polygon points="434.4,534.3 486.1,547.8 469.3,619.6 453.8,615.8 444.7,648.1 403.4,635.2" fill="#f2f09b" stroke="#777" stroke-width="0.7" />
<polygon points="443,469.4 507,488.8 492.8,530.8 473.4,525.6 473.4,510.8 439.7,511.4 439.1,503 436.5,491.4 439.7,490.1" fill="#f2f09b" stroke="#777" stroke-width="0.7" />
<text x="474" y="497" font-size="8.5" fill="#333" font-weight="bold" text-anchor="middle" font-family="Liberation Serif" transform="rotate(10 474 497)" >多功能厅</text>
<text x="453" y="575" font-size="19" fill="#7a7a7a" font-weight="bold" text-anchor="middle" font-family="Liberation Sans" transform="rotate(12 453 575)" stroke="#7a7a7a" stroke-width="0.5" style="mix-blend-mode:multiply">G−1F</text>
<text x="446" y="597" font-size="17" fill="#7a7a7a" font-weight="bold" text-anchor="middle" font-family="Liberation Sans" transform="rotate(12 446 597)" stroke="#7a7a7a" stroke-width="0.5" style="mix-blend-mode:multiply">会议区</text>
<text x="507" y="569" font-size="9.5" fill="#333" font-weight="bold" text-anchor="start" font-family="Liberation Serif" >G−1F</text>
<text x="360.7" y="557" font-size="8" fill="#333" font-weight="bold" text-anchor="middle" font-family="Liberation Serif" >会</text>
<text x="354.2" y="580.5" font-size="8" fill="#333" font-weight="bold" text-anchor="middle" font-family="Liberation Serif" >议</text>
<text x="347.8" y="602.5" font-size="8" fill="#333" font-weight="bold" text-anchor="middle" font-family="Liberation Serif" >区</text>
<g transform="rotate(10 376.2 561.5)">
<rect x="371" y="557.6" width="10.4" height="7.7" fill="#ffffff" stroke="#808080" stroke-width="0.6" />
<circle cx="374.9" cy="559.4" r="0.5" fill="#111"/>
<path d="M374.2,560.1 h1.4 v2.1 h-0.3 v1.8 h-0.9 v-1.8 h-0.3 Z" fill="#111"/>
<circle cx="377.5" cy="559.4" r="0.5" fill="#111"/>
<path d="M377,560.1 L378,560.1 L378.3,562.5 L376.6,562.5 Z" fill="#111"/>
<rect x="377.1" y="562.5" width="0.8" height="1.5" fill="#111"/>
<line x1="376.2" y1="558.9" x2="376.2" y2="564" stroke="#333" stroke-width="0.4"/>
</g>
<g transform="rotate(10 371 580.9)">
<rect x="365.9" y="577" width="10.3" height="7.7" fill="#ffffff" stroke="#808080" stroke-width="0.6" />
<circle cx="369.8" cy="578.8" r="0.5" fill="#111"/>
<path d="M369.1,579.5 h1.4 v2.1 h-0.3 v1.8 h-0.9 v-1.8 h-0.3 Z" fill="#111"/>
<circle cx="372.3" cy="578.8" r="0.5" fill="#111"/>
<path d="M371.8,579.5 L372.8,579.5 L373.2,581.9 L371.5,581.9 Z" fill="#111"/>
<rect x="371.9" y="581.9" width="0.8" height="1.5" fill="#111"/>
<line x1="371" y1="578.3" x2="371" y2="583.4" stroke="#333" stroke-width="0.4"/>
</g>
<g transform="rotate(10 365.4 599.3)">
<rect x="360.2" y="595" width="10.3" height="8.6" fill="#ffffff" stroke="#808080" stroke-width="0.6" />
<circle cx="363.9" cy="597" r="0.6" fill="#111"/>
<path d="M363.1,597.8 h1.6 v2.4 h-0.3 v2 h-1 v-2 h-0.3 Z" fill="#111"/>
<circle cx="366.8" cy="597" r="0.6" fill="#111"/>
<path d="M366.2,597.8 L367.3,597.8 L367.7,600.4 L365.8,600.4 Z" fill="#111"/>
<rect x="366.3" y="600.4" width="0.9" height="1.7" fill="#111"/>
<line x1="365.4" y1="596.5" x2="365.4" y2="602.1" stroke="#333" stroke-width="0.4"/>
</g>
<g transform="rotate(10 352.3 641.6)">
<rect x="345.2" y="633.9" width="14.2" height="15.5" fill="#ffffff" stroke="#808080" stroke-width="0.6" />
<circle cx="349.7" cy="637.6" r="1" fill="#111"/>
<path d="M348.3,638.9 h2.9 v4.3 h-0.5 v3.6 h-1.8 v-3.6 h-0.5 Z" fill="#111"/>
<circle cx="354.9" cy="637.6" r="1" fill="#111"/>
<path d="M353.8,638.9 L355.9,638.9 L356.6,643.7 L353.1,643.7 Z" fill="#111"/>
<rect x="354" y="643.7" width="1.6" height="3.1" fill="#111"/>
<line x1="352.3" y1="636.5" x2="352.3" y2="646.8" stroke="#333" stroke-width="0.4"/>
</g>
<g transform="rotate(10 463.5 673.8)">
<rect x="456.4" y="667.5" width="14.2" height="12.5" fill="#ffffff" stroke="#808080" stroke-width="0.6" />
<circle cx="461.4" cy="670.5" r="0.8" fill="#111"/>
<path d="M460.3,671.5 h2.3 v3.5 h-0.4 v2.9 h-1.5 v-2.9 h-0.4 Z" fill="#111"/>
<circle cx="465.6" cy="670.5" r="0.8" fill="#111"/>
<path d="M464.7,671.5 L466.4,671.5 L467,675.4 L464.2,675.4 Z" fill="#111"/>
<rect x="464.9" y="675.4" width="1.3" height="2.5" fill="#111"/>
<line x1="463.5" y1="669.6" x2="463.5" y2="677.9" stroke="#333" stroke-width="0.4"/>
</g>
<path d="M298.9,707 Q385,702 450.3,714.3" fill="none" stroke="#8c8c8c" stroke-width="0.8"/>
<polyline points="342.8,655 334.3,684.3" fill="none" stroke="#8c8c8c" stroke-width="0.7"/>
<polygon points="330.6,684.3 345.3,687.9 341.6,705 325.7,703.8" fill="none" stroke="#8c8c8c" stroke-width="0.7" />
<polyline points="425.9,685.5 418.5,708.7" fill="none" stroke="#8c8c8c" stroke-width="0.8"/>
<polyline points="445.4,694 452.7,695.3 447.8,713.6" fill="none" stroke="#8c8c8c" stroke-width="0.6"/>
<polyline points="375.8,707 376.5,703.8 411.2,707 410.5,711" fill="none" stroke="#8c8c8c" stroke-width="0.6"/>
<polyline points="320,449 343,443" fill="none" stroke="#8c8c8c" stroke-width="0.8"/>
<rect x="7.3" y="519.6" width="31.2" height="60.4" fill="#a9d9c4" stroke="#80b39e" stroke-width="0.7" />
<text x="15.5" y="536" font-size="7.5" fill="#222" font-weight="bold" text-anchor="middle" font-family="Liberation Serif" >地</text>
<text x="15.5" y="546.5" font-size="7.5" fill="#222" font-weight="bold" text-anchor="middle" font-family="Liberation Serif" >铁</text>
<text x="15.5" y="557" font-size="7.5" fill="#222" font-weight="bold" text-anchor="middle" font-family="Liberation Serif" >一</text>
<text x="15.5" y="567.5" font-size="7.5" fill="#222" font-weight="bold" text-anchor="middle" font-family="Liberation Serif" >号</text>
<text x="15.5" y="578" font-size="7.5" fill="#222" font-weight="bold" text-anchor="middle" font-family="Liberation Serif" >线</text>
<text x="28.5" y="530" font-size="4.5" fill="#333" font-weight="bold" text-anchor="middle" font-family="Liberation Serif" >国</text>
<text x="28.5" y="536" font-size="4.5" fill="#333" font-weight="bold" text-anchor="middle" font-family="Liberation Serif" >际</text>
<text x="28.5" y="542" font-size="4.5" fill="#333" font-weight="bold" text-anchor="middle" font-family="Liberation Serif" >博</text>
<text x="28.5" y="548" font-size="4.5" fill="#333" font-weight="bold" text-anchor="middle" font-family="Liberation Serif" >览</text>
<text x="28.5" y="554" font-size="4.5" fill="#333" font-weight="bold" text-anchor="middle" font-family="Liberation Serif" >中</text>
<text x="28.5" y="560" font-size="4.5" fill="#333" font-weight="bold" text-anchor="middle" font-family="Liberation Serif" >心</text>
<text x="28.5" y="566" font-size="4.5" fill="#333" font-weight="bold" text-anchor="middle" font-family="Liberation Serif" >站</text>
<rect x="12.6" y="609.7" width="74.5" height="38.9" fill="#a9d9c4" stroke="#80b39e" stroke-width="0.7" />
<text x="50" y="634" font-size="11" fill="#222" font-weight="bold" text-anchor="middle" font-family="Liberation Serif" >停　车　场</text>
<rect x="176.9" y="536.5" width="70.7" height="37.2" fill="#a9d9c4" stroke="#80b39e" stroke-width="0.7" />
<text x="212" y="554" font-size="8" fill="#222" font-weight="bold" text-anchor="middle" font-family="Liberation Serif" >地 下 停 车 场</text>
<text x="212" y="564.5" font-size="5.5" fill="#222" font-weight="bold" text-anchor="middle" font-family="Liberation Serif" >（拥有1500个车位）</text>
<rect x="269.3" y="743.8" width="87.1" height="27.5" fill="#a9d9c4" stroke="#80b39e" stroke-width="0.7" />
<text x="313" y="762" font-size="11" fill="#222" font-weight="bold" text-anchor="middle" font-family="Liberation Serif" >停　车　场</text>
<rect x="577.6" y="370.7" width="21.3" height="84.6" fill="#a9d9c4" stroke="#80b39e" stroke-width="0.7" />
<text x="588" y="390" font-size="10.5" fill="#222" font-weight="bold" text-anchor="middle" font-family="Liberation Serif" >大</text>
<text x="588" y="405.5" font-size="10.5" fill="#222" font-weight="bold" text-anchor="middle" font-family="Liberation Serif" >型</text>
<text x="588" y="421" font-size="10.5" fill="#222" font-weight="bold" text-anchor="middle" font-family="Liberation Serif" >停</text>
<text x="588" y="436.5" font-size="10.5" fill="#222" font-weight="bold" text-anchor="middle" font-family="Liberation Serif" >车</text>
<text x="588" y="452" font-size="10.5" fill="#222" font-weight="bold" text-anchor="middle" font-family="Liberation Serif" >场</text>
<polyline points="487.3,298.5 522.6,311" fill="none" stroke="#555" stroke-width="0.8"/>
<rect x="498" y="301.5" width="2" height="2.5" fill="#222" stroke="none" stroke-width="0.6" />
<rect x="510" y="305.8" width="2" height="2.5" fill="#222" stroke="none" stroke-width="0.6" />
<g transform="translate(452.8 288.4) rotate(-25)"><rect x="-5" y="-1.6" width="10" height="3.2" rx="1.6" fill="#fff" stroke="#333" stroke-width="0.7"/><line x1="-3" y1="0" x2="3" y2="0" stroke="#333" stroke-width="0.6"/></g>
<g transform="translate(318.5 317) rotate(-30)"><rect x="-5" y="-1.6" width="10" height="3.2" rx="1.6" fill="#fff" stroke="#333" stroke-width="0.7"/><line x1="-3" y1="0" x2="3" y2="0" stroke="#333" stroke-width="0.6"/></g>
<g transform="translate(182 375) rotate(-30)"><rect x="-5" y="-1.6" width="10" height="3.2" rx="1.6" fill="#fff" stroke="#333" stroke-width="0.7"/><line x1="-3" y1="0" x2="3" y2="0" stroke="#333" stroke-width="0.6"/></g>
<g transform="translate(367 684) rotate(-30)"><rect x="-5" y="-1.6" width="10" height="3.2" rx="1.6" fill="#fff" stroke="#333" stroke-width="0.7"/><line x1="-3" y1="0" x2="3" y2="0" stroke="#333" stroke-width="0.6"/></g>
<g transform="translate(353 548) rotate(-45)"><rect x="-5" y="-1.6" width="10" height="3.2" rx="1.6" fill="#fff" stroke="#333" stroke-width="0.7"/><line x1="-3" y1="0" x2="3" y2="0" stroke="#333" stroke-width="0.6"/></g>
<polyline points="220.2,342.4 243.8,342.4" fill="none" stroke="#555" stroke-width="0.8" stroke-dasharray="1,1"/>
<polyline points="88,417 119,411" fill="none" stroke="#555" stroke-width="0.8" stroke-dasharray="1,1"/>
<g fill="#222"><circle cx="281" cy="343" r="0.9"/><rect x="279.4" y="344" width="3.2" height="4"/></g>
<g fill="#222"><circle cx="138" cy="410" r="0.9"/><rect x="136.4" y="411" width="3.2" height="4"/></g>
<polyline points="784,221.2 784,361.4 926,361.4 926,293" fill="none" stroke="#8c8c8c" stroke-width="0.8"/>
<polyline points="784,221.2 812,221.2" fill="none" stroke="#8c8c8c" stroke-width="0.8"/>
<polyline points="835,221.2 868,221.2" fill="none" stroke="#8c8c8c" stroke-width="0.7"/>
<polyline points="897,221.2 966,221.2" fill="none" stroke="#8c8c8c" stroke-width="0.8"/>
<polygon points="786.1,224.3 840.8,224.3 840.8,240.8 786.1,240.8" fill="#fce6b7" stroke="#b39a68" stroke-width="0.6" />
<polygon points="867.2,224.3 925.3,224.3 925.3,240.8 867.2,240.8" fill="#fce6b7" stroke="#b39a68" stroke-width="0.6" />
<line x1="896.2" y1="224.3" x2="896.2" y2="240.8" stroke="#b39a68" stroke-width="0.5"/>
<polygon points="934,224.3 964.1,224.3 964.1,240.8 934,240.8" fill="#fce6b7" stroke="#b39a68" stroke-width="0.6" />
<polygon points="786.1,248.6 802,248.6 802,343.5 786.1,343.5" fill="#fce6b7" stroke="#b39a68" stroke-width="0.6" />
<line x1="786.1" y1="272.3" x2="802" y2="272.3" stroke="#b39a68" stroke-width="0.5"/>
<line x1="786.1" y1="296.1" x2="802" y2="296.1" stroke="#b39a68" stroke-width="0.5"/>
<line x1="786.1" y1="319.8" x2="802" y2="319.8" stroke="#b39a68" stroke-width="0.5"/>
<polygon points="786.1,344.5 840.8,344.5 840.8,359.4 786.1,359.4" fill="#fce6b7" stroke="#b39a68" stroke-width="0.6" />
<line x1="813.5" y1="344.5" x2="813.5" y2="359.4" stroke="#b39a68" stroke-width="0.5"/>
<polygon points="808.8,248.6 840.8,248.6 840.8,337.7 808.8,337.7" fill="#fce6b7" stroke="#b39a68" stroke-width="0.6" />
<line x1="808.8" y1="270.9" x2="840.8" y2="270.9" stroke="#b39a68" stroke-width="0.5"/>
<line x1="808.8" y1="293.1" x2="840.8" y2="293.1" stroke="#b39a68" stroke-width="0.5"/>
<line x1="808.8" y1="315.4" x2="840.8" y2="315.4" stroke="#b39a68" stroke-width="0.5"/>
<polygon points="850.1,248.6 902,248.6 902,337.7 850.1,337.7" fill="#fce6b7" stroke="#b39a68" stroke-width="0.6" />
<line x1="876" y1="248.6" x2="876" y2="337.7" stroke="#b39a68" stroke-width="0.5"/>
<line x1="850.1" y1="270.9" x2="902" y2="270.9" stroke="#b39a68" stroke-width="0.5"/>
<line x1="850.1" y1="293.1" x2="902" y2="293.1" stroke="#b39a68" stroke-width="0.5"/>
<line x1="850.1" y1="315.4" x2="902" y2="315.4" stroke="#b39a68" stroke-width="0.5"/>
<polygon points="908.8,248.6 961.2,248.4 959.4,290.5 923.7,290.5 923.7,359.4 908.8,359.4" fill="#fce6b7" stroke="#b39a68" stroke-width="0.6" />
<polyline points="931.5,248.6 931.5,290.5" fill="none" stroke="#b39a68" stroke-width="0.5"/>
<polyline points="908.8,269.5 960.4,269.5" fill="none" stroke="#b39a68" stroke-width="0.5"/>
<polyline points="908.8,324.6 923.7,324.6" fill="none" stroke="#b39a68" stroke-width="0.5"/>
<polygon points="867.8,344.5 906.6,344.5 906.6,359.4 867.8,359.4" fill="#fce6b7" stroke="#b39a68" stroke-width="0.6" />
<g>
<rect x="812.2" y="206.6" width="22.4" height="13.7" fill="#ffffff" stroke="#808080" stroke-width="0.6" />
<circle cx="821.1" cy="209.8" r="0.9" fill="#111"/>
<path d="M819.9,211 h2.5 v3.8 h-0.5 v3.2 h-1.6 v-3.2 h-0.5 Z" fill="#111"/>
<circle cx="825.7" cy="209.8" r="0.9" fill="#111"/>
<path d="M824.8,211 L826.6,211 L827.2,215.3 L824.1,215.3 Z" fill="#111"/>
<rect x="824.9" y="215.3" width="1.4" height="2.7" fill="#111"/>
<line x1="823.4" y1="208.9" x2="823.4" y2="218" stroke="#333" stroke-width="0.4"/>
</g>
<g>
<rect x="868.8" y="206.6" width="27.9" height="13.7" fill="#ffffff" stroke="#808080" stroke-width="0.6" />
<circle cx="880.5" cy="209.8" r="0.9" fill="#111"/>
<path d="M879.2,211 h2.5 v3.8 h-0.5 v3.2 h-1.6 v-3.2 h-0.5 Z" fill="#111"/>
<circle cx="885" cy="209.8" r="0.9" fill="#111"/>
<path d="M884.1,211 L885.9,211 L886.5,215.3 L883.5,215.3 Z" fill="#111"/>
<rect x="884.3" y="215.3" width="1.4" height="2.7" fill="#111"/>
<line x1="882.8" y1="208.9" x2="882.8" y2="218" stroke="#333" stroke-width="0.4"/>
</g>
<g>
<rect x="821.2" y="363.2" width="19.6" height="13.3" fill="#ffffff" stroke="#808080" stroke-width="0.6" />
<circle cx="828.8" cy="366.3" r="0.9" fill="#111"/>
<path d="M827.6,367.5 h2.5 v3.7 h-0.4 v3.1 h-1.6 v-3.1 h-0.4 Z" fill="#111"/>
<circle cx="833.2" cy="366.3" r="0.9" fill="#111"/>
<path d="M832.3,367.5 L834.1,367.5 L834.7,371.6 L831.7,371.6 Z" fill="#111"/>
<rect x="832.5" y="371.6" width="1.4" height="2.6" fill="#111"/>
<line x1="831" y1="365.5" x2="831" y2="374.2" stroke="#333" stroke-width="0.4"/>
</g>
<g>
<rect x="868.8" y="363.2" width="17.7" height="13.3" fill="#ffffff" stroke="#808080" stroke-width="0.6" />
<circle cx="875.5" cy="366.3" r="0.9" fill="#111"/>
<path d="M874.2,367.5 h2.5 v3.7 h-0.4 v3.1 h-1.6 v-3.1 h-0.4 Z" fill="#111"/>
<circle cx="879.8" cy="366.3" r="0.9" fill="#111"/>
<path d="M879,367.5 L880.7,367.5 L881.3,371.6 L878.4,371.6 Z" fill="#111"/>
<rect x="879.1" y="371.6" width="1.4" height="2.6" fill="#111"/>
<line x1="877.6" y1="365.5" x2="877.6" y2="374.2" stroke="#333" stroke-width="0.4"/>
</g>
<text x="785" y="203" font-size="8.5" fill="#333" font-weight="bold" text-anchor="start" font-family="Liberation Serif" >C−3F</text>
<g>
<text x="841" y="192" font-size="6" fill="#222" font-weight="bold" font-family="Liberation Serif">货物出入口</text>
<rect x="848.2" y="195.3" width="0.8" height="3.7" fill="#333"/>
<rect x="849.9" y="195.3" width="0.8" height="3.7" fill="#333"/>
<rect x="859.6" y="195.3" width="0.8" height="3.7" fill="#333"/>
<rect x="861.3" y="195.3" width="0.8" height="3.7" fill="#333"/>
</g>
<g>
<text x="912" y="192" font-size="6" fill="#222" font-weight="bold" font-family="Liberation Serif">货物出入口</text>
<rect x="919.2" y="195.3" width="0.8" height="3.7" fill="#333"/>
<rect x="920.9" y="195.3" width="0.8" height="3.7" fill="#333"/>
<rect x="930.6" y="195.3" width="0.8" height="3.7" fill="#333"/>
<rect x="932.3" y="195.3" width="0.8" height="3.7" fill="#333"/>
</g>
<text x="855" y="278.5" font-size="21" fill="#7a7a7a" font-weight="bold" text-anchor="middle" font-family="Liberation Sans" stroke="#7a7a7a" stroke-width="0.35" style="mix-blend-mode:multiply">C−3F</text>
<text x="855" y="300" font-size="17.5" fill="#7a7a7a" font-weight="bold" text-anchor="middle" font-family="Liberation Sans" stroke="#7a7a7a" stroke-width="0.35" style="mix-blend-mode:multiply">软体</text>
<text x="855" y="323" font-size="17.5" fill="#7a7a7a" font-weight="bold" text-anchor="middle" font-family="Liberation Sans" stroke="#7a7a7a" stroke-width="0.35" style="mix-blend-mode:multiply">客厅家具区</text>
<rect x="795.5" y="383.7" width="45.9" height="5.3" fill="#e2461f" stroke="none" stroke-width="0.6" />
<text x="818.5" y="388.2" font-size="4.5" fill="#fff" font-weight="bold" text-anchor="middle" font-family="Liberation Sans" >餐 饮 区</text>
<polyline points="795.5,389 795.5,403 951.5,391.5" fill="none" stroke="#8c8c8c" stroke-width="0.6"/>
<polyline points="841.4,389.8 925,389.8 951.5,391.5" fill="none" stroke="#8c8c8c" stroke-width="0.6"/>
<polyline points="807.3,389.8 807.3,402.1" fill="none" stroke="#8c8c8c" stroke-width="0.5"/>
<polyline points="819,389.8 819,401.2" fill="none" stroke="#8c8c8c" stroke-width="0.5"/>
<polyline points="840.3,389.8 840.3,399.6" fill="none" stroke="#8c8c8c" stroke-width="0.5"/>
<polyline points="861.1,389.8 861.1,398.1" fill="none" stroke="#8c8c8c" stroke-width="0.5"/>
<polyline points="882.5,389.8 882.5,396.5" fill="none" stroke="#8c8c8c" stroke-width="0.5"/>
<polyline points="903.7,389.8 903.7,394.9" fill="none" stroke="#8c8c8c" stroke-width="0.5"/>
<polyline points="924.5,389.8 924.5,393.3" fill="none" stroke="#8c8c8c" stroke-width="0.5"/>
<polyline points="992,162 963.3,157.3 950.9,220.9 966,224" fill="none" stroke="#8c8c8c" stroke-width="0.8"/>
<polygon points="964.2,159.6 1017.7,167.7 1016.1,187.6 973.6,182.3 971.1,192.6 961.7,191.6" fill="#f6da95" stroke="#a88c50" stroke-width="0.6" />
<polyline points="990,163.5 988,184.5" fill="none" stroke="#a88c50" stroke-width="0.5"/>
<polygon points="957.1,198.8 969.5,200 966.4,224.3 952.4,222.7" fill="#f6da95" stroke="#a88c50" stroke-width="0.6" />
<polygon points="977.3,190.1 1014.6,194.8 1005.2,283.3 963.3,278.6" fill="#f6da95" stroke="#a88c50" stroke-width="0.6" />
<line x1="973.8" y1="212.2" x2="1012.2" y2="216.9" stroke="#a88c50" stroke-width="0.5"/>
<line x1="970.3" y1="234.4" x2="1009.9" y2="239.1" stroke="#a88c50" stroke-width="0.5"/>
<line x1="966.8" y1="256.5" x2="1007.6" y2="261.2" stroke="#a88c50" stroke-width="0.5"/>
<polygon points="1021.4,196.9 1073.6,205 1061.2,292 1006.8,284.8" fill="#f6da95" stroke="#a88c50" stroke-width="0.6" />
<line x1="1047.5" y1="200.9" x2="1034" y2="288.4" stroke="#a88c50" stroke-width="0.5"/>
<line x1="1017.8" y1="218.9" x2="1070.5" y2="226.8" stroke="#a88c50" stroke-width="0.5"/>
<line x1="1014.1" y1="240.9" x2="1067.4" y2="248.5" stroke="#a88c50" stroke-width="0.5"/>
<line x1="1010.4" y1="262.8" x2="1064.3" y2="270.2" stroke="#a88c50" stroke-width="0.5"/>
<polygon points="1043.5,174.7 1101.7,185.1 1099.4,201.4 1041.2,192.1" fill="#f6da95" stroke="#a88c50" stroke-width="0.6" />
<line x1="1072.6" y1="179.9" x2="1070.3" y2="196.8" stroke="#a88c50" stroke-width="0.5"/>
<polygon points="961.7,282.7 997.5,287.9 995.3,301.9 959.3,296.6" fill="#f6da95" stroke="#a88c50" stroke-width="0.6" />
<polygon points="1023.3,293.2 1061.8,299.4 1059.6,313.7 1021.4,307.5" fill="#f6da95" stroke="#a88c50" stroke-width="0.6" />
<polygon points="1080.8,208.4 1113.4,214.3 1106.4,265.5 1072.6,260.8" fill="#f6da95" stroke="#a88c50" stroke-width="0.6" />
<line x1="1076.7" y1="234.6" x2="1109.9" y2="239.9" stroke="#a88c50" stroke-width="0.5"/>
<polygon points="1071.4,262 1084.3,263.2 1077.3,316.8 1062.1,314.4" fill="#f6da95" stroke="#a88c50" stroke-width="0.6" />
<line x1="1066.8" y1="288.2" x2="1080.8" y2="290" stroke="#a88c50" stroke-width="0.5"/>
<g transform="rotate(8 1003 155.9)">
<rect x="991.3" y="148.1" width="23.3" height="15.6" fill="#ffffff" stroke="#808080" stroke-width="0.6" />
<circle cx="1000.4" cy="151.8" r="1" fill="#111"/>
<path d="M998.9,153.1 h2.9 v4.3 h-0.5 v3.6 h-1.9 v-3.6 h-0.5 Z" fill="#111"/>
<circle cx="1005.5" cy="151.8" r="1" fill="#111"/>
<path d="M1004.5,153.1 L1006.6,153.1 L1007.3,158 L1003.8,158 Z" fill="#111"/>
<rect x="1004.7" y="158" width="1.6" height="3.1" fill="#111"/>
<line x1="1003" y1="150.8" x2="1003" y2="161" stroke="#333" stroke-width="0.4"/>
</g>
<g transform="rotate(8 1062 166.1)">
<rect x="1047.2" y="157.5" width="29.5" height="17.1" fill="#ffffff" stroke="#808080" stroke-width="0.6" />
<circle cx="1059.1" cy="161.5" r="1.1" fill="#111"/>
<path d="M1057.5,163 h3.2 v4.7 h-0.6 v4 h-2 v-4 h-0.6 Z" fill="#111"/>
<circle cx="1064.8" cy="161.5" r="1.1" fill="#111"/>
<path d="M1063.6,163 L1065.9,163 L1066.7,168.3 L1062.9,168.3 Z" fill="#111"/>
<rect x="1063.9" y="168.3" width="1.8" height="3.4" fill="#111"/>
<line x1="1062" y1="160.4" x2="1062" y2="171.7" stroke="#333" stroke-width="0.4"/>
</g>
<text x="970" y="140" font-size="8.5" fill="#333" font-weight="bold" text-anchor="start" font-family="Liberation Serif" transform="rotate(6 970 140)" >D −3F</text>
<g transform="rotate(6 1027 142)">
<text x="1027" y="142" font-size="6" fill="#222" font-weight="bold" font-family="Liberation Serif">货物出入口</text>
<rect x="1034.2" y="145.3" width="0.8" height="3.7" fill="#333"/>
<rect x="1035.9" y="145.3" width="0.8" height="3.7" fill="#333"/>
<rect x="1045.6" y="145.3" width="0.8" height="3.7" fill="#333"/>
<rect x="1047.3" y="145.3" width="0.8" height="3.7" fill="#333"/>
</g>
<g transform="rotate(6 1100 151)">
<text x="1100" y="151" font-size="6" fill="#222" font-weight="bold" font-family="Liberation Serif">货物出入口</text>
<rect x="1107.2" y="154.3" width="0.8" height="3.7" fill="#333"/>
<rect x="1108.9" y="154.3" width="0.8" height="3.7" fill="#333"/>
<rect x="1118.6" y="154.3" width="0.8" height="3.7" fill="#333"/>
<rect x="1120.3" y="154.3" width="0.8" height="3.7" fill="#333"/>
</g>
<text x="1023" y="230" font-size="21" fill="#7a7a7a" font-weight="bold" text-anchor="middle" font-family="Liberation Sans" transform="rotate(8 1023 230)" stroke="#7a7a7a" stroke-width="0.35" style="mix-blend-mode:multiply">D−3F</text>
<text x="1020" y="251" font-size="17.5" fill="#7a7a7a" font-weight="bold" text-anchor="middle" font-family="Liberation Sans" transform="rotate(8 1020 251)" stroke="#7a7a7a" stroke-width="0.35" style="mix-blend-mode:multiply">软体</text>
<text x="1016" y="276" font-size="17.5" fill="#7a7a7a" font-weight="bold" text-anchor="middle" font-family="Liberation Sans" transform="rotate(8 1016 276)" stroke="#7a7a7a" stroke-width="0.35" style="mix-blend-mode:multiply">客厅家具区</text>
<polyline points="925.3,293.3 1078.6,319.5 1087.8,266.7 1107.6,269" fill="none" stroke="#8c8c8c" stroke-width="0.7"/>
<polyline points="1269.4,173.7 1115.8,654.8" fill="none" stroke="#8c8c8c" stroke-width="0.9"/>
<polyline points="1222.3,156.6 1269.4,173.7" fill="none" stroke="#8c8c8c" stroke-width="0.8"/>
<polyline points="1144,135.8 1188.4,147.9" fill="none" stroke="#8c8c8c" stroke-width="0.8"/>
<polyline points="1147,137.5 1130.7,185.1 1101.9,181.6" fill="none" stroke="#8c8c8c" stroke-width="0.8"/>
<polygon points="1146.8,139.9 1200.2,156.9 1195.5,171.5 1142.2,154.4" fill="#f1c35d" stroke="#9c7a32" stroke-width="0.6" />
<polygon points="1223.7,162.3 1264.6,175.4 1259.5,191.5 1218.5,178.5" fill="#f1c35d" stroke="#9c7a32" stroke-width="0.6" />
<polygon points="1140.5,163 1177.7,174.9 1163.7,218.7 1104.6,203 1110.1,185.9 1131.7,190.7" fill="#f1c35d" stroke="#9c7a32" stroke-width="0.6" />
<polyline points="1131.7,190.7 1126.2,207.8" fill="none" stroke="#9c7a32" stroke-width="0.5"/>
<polyline points="1135.6,178.3 1172.8,190.1" fill="none" stroke="#9c7a32" stroke-width="0.5"/>
<polygon points="1184.6,176.1 1233.2,191.6 1207.4,272.5 1158.8,257" fill="#f1c35d" stroke="#9c7a32" stroke-width="0.6" />
<line x1="1208.9" y1="183.8" x2="1183.1" y2="264.8" stroke="#9c7a32" stroke-width="0.5"/>
<line x1="1176" y1="203.1" x2="1224.6" y2="218.6" stroke="#9c7a32" stroke-width="0.5"/>
<line x1="1167.4" y1="230" x2="1216" y2="245.6" stroke="#9c7a32" stroke-width="0.5"/>
<polygon points="1238.9,187.1 1259.8,193.8 1214.8,334.8 1193.9,328.1" fill="#f1c35d" stroke="#9c7a32" stroke-width="0.6" />
<line x1="1229.9" y1="215.3" x2="1250.8" y2="222" stroke="#9c7a32" stroke-width="0.5"/>
<line x1="1220.9" y1="243.5" x2="1241.8" y2="250.2" stroke="#9c7a32" stroke-width="0.5"/>
<line x1="1211.9" y1="271.7" x2="1232.8" y2="278.4" stroke="#9c7a32" stroke-width="0.5"/>
<line x1="1202.9" y1="299.9" x2="1223.8" y2="306.6" stroke="#9c7a32" stroke-width="0.5"/>
<polygon points="1158.6,264.3 1208.1,280.1 1180.1,367.8 1130.6,352" fill="#f1c35d" stroke="#9c7a32" stroke-width="0.6" />
<line x1="1183.3" y1="272.2" x2="1155.4" y2="359.9" stroke="#9c7a32" stroke-width="0.5"/>
<line x1="1149.2" y1="293.5" x2="1198.8" y2="309.3" stroke="#9c7a32" stroke-width="0.5"/>
<line x1="1139.9" y1="322.7" x2="1189.5" y2="338.6" stroke="#9c7a32" stroke-width="0.5"/>
<polygon points="1119.9,280.3 1139.9,286.7 1119.5,350.5 1099.5,344.1" fill="#f1c35d" stroke="#9c7a32" stroke-width="0.6" />
<line x1="1109.7" y1="312.2" x2="1129.7" y2="318.6" stroke="#9c7a32" stroke-width="0.5"/>
<g transform="rotate(16 1186.7 140.5)">
<rect x="1174.5" y="133" width="24.3" height="15" fill="#ffffff" stroke="#808080" stroke-width="0.6" />
<circle cx="1184.2" cy="136.5" r="1" fill="#111"/>
<path d="M1182.8,137.8 h2.8 v4.2 h-0.5 v3.5 h-1.8 v-3.5 h-0.5 Z" fill="#111"/>
<circle cx="1189.1" cy="136.5" r="1" fill="#111"/>
<path d="M1188.1,137.8 L1190.1,137.8 L1190.8,142.5 L1187.4,142.5 Z" fill="#111"/>
<rect x="1188.3" y="142.5" width="1.6" height="3" fill="#111"/>
<line x1="1186.7" y1="135.6" x2="1186.7" y2="145.4" stroke="#333" stroke-width="0.4"/>
</g>
<g transform="rotate(16 1242.8 158)">
<rect x="1228.5" y="151" width="28.5" height="14" fill="#ffffff" stroke="#808080" stroke-width="0.6" />
<circle cx="1240.4" cy="154.3" r="0.9" fill="#111"/>
<path d="M1239.1,155.5 h2.6 v3.9 h-0.5 v3.2 h-1.7 v-3.2 h-0.5 Z" fill="#111"/>
<circle cx="1245.1" cy="154.3" r="0.9" fill="#111"/>
<path d="M1244.1,155.5 L1246,155.5 L1246.6,159.8 L1243.5,159.8 Z" fill="#111"/>
<rect x="1244.3" y="159.8" width="1.5" height="2.8" fill="#111"/>
<line x1="1242.8" y1="153.4" x2="1242.8" y2="162.6" stroke="#333" stroke-width="0.4"/>
</g>
<text x="1153" y="119" font-size="8.5" fill="#333" font-weight="bold" text-anchor="start" font-family="Liberation Serif" transform="rotate(12 1153 119)" >E −3F</text>
<g transform="rotate(12 1212 128)">
<text x="1212" y="128" font-size="6" fill="#222" font-weight="bold" font-family="Liberation Serif">货物出入口</text>
<rect x="1219.2" y="131.3" width="0.8" height="3.7" fill="#333"/>
<rect x="1220.9" y="131.3" width="0.8" height="3.7" fill="#333"/>
<rect x="1230.6" y="131.3" width="0.8" height="3.7" fill="#333"/>
<rect x="1232.3" y="131.3" width="0.8" height="3.7" fill="#333"/>
</g>
<polygon points="1113.4,214.3 1161.1,222.4 1142.5,283 1121.5,278.3 1127,252 1110,248" fill="#f1c35d" stroke="#9c7a32" stroke-width="0.6" />
<g transform="rotate(14 1118.1 253.3)">
<rect x="1109.9" y="243.4" width="16.3" height="19.8" fill="#ffffff" stroke="#808080" stroke-width="0.6" />
<circle cx="1115" cy="248.4" r="1.2" fill="#111"/>
<path d="M1113.3,250 h3.4 v5.1 h-0.6 v4.3 h-2.2 v-4.3 h-0.6 Z" fill="#111"/>
<circle cx="1121.1" cy="248.4" r="1.2" fill="#111"/>
<path d="M1119.9,250 L1122.3,250 L1123.2,255.7 L1119,255.7 Z" fill="#111"/>
<rect x="1120.1" y="255.7" width="2" height="3.7" fill="#111"/>
<line x1="1118.1" y1="247.2" x2="1118.1" y2="259.4" stroke="#333" stroke-width="0.4"/>
</g>
<g transform="rotate(14 1100.6 305.1)">
<rect x="1091.2" y="295.8" width="18.7" height="18.6" fill="#ffffff" stroke="#808080" stroke-width="0.6" />
<circle cx="1097.5" cy="300.2" r="1.2" fill="#111"/>
<path d="M1095.8,301.8 h3.4 v5.2 h-0.6 v4.3 h-2.2 v-4.3 h-0.6 Z" fill="#111"/>
<circle cx="1103.6" cy="300.2" r="1.2" fill="#111"/>
<path d="M1102.4,301.8 L1104.8,301.8 L1105.7,307.6 L1101.5,307.6 Z" fill="#111"/>
<rect x="1102.6" y="307.6" width="2" height="3.7" fill="#111"/>
<line x1="1100.6" y1="299" x2="1100.6" y2="311.2" stroke="#333" stroke-width="0.4"/>
</g>
<polygon points="1096.8,352.7 1117.7,359.4 1088.8,449.9 1067.9,443.2" fill="#e3ab39" stroke="#8f6a20" stroke-width="0.6" />
<line x1="1087.1" y1="382.9" x2="1108.1" y2="389.6" stroke="#8f6a20" stroke-width="0.5"/>
<line x1="1077.5" y1="413" x2="1098.5" y2="419.7" stroke="#8f6a20" stroke-width="0.5"/>
<polygon points="1124.7,360.6 1178,377.6 1149.5,467.2 1096.1,450.1" fill="#e3ab39" stroke="#8f6a20" stroke-width="0.6" />
<line x1="1151.4" y1="369.1" x2="1122.8" y2="458.6" stroke="#8f6a20" stroke-width="0.5"/>
<line x1="1115.2" y1="390.4" x2="1168.5" y2="407.5" stroke="#8f6a20" stroke-width="0.5"/>
<line x1="1105.6" y1="420.3" x2="1159" y2="437.3" stroke="#8f6a20" stroke-width="0.5"/>
<polygon points="1196.8,335.3 1213,340.5 1174.1,462.4 1157.9,457.2" fill="#e3ab39" stroke="#8f6a20" stroke-width="0.6" />
<line x1="1187.1" y1="365.8" x2="1203.3" y2="371" stroke="#8f6a20" stroke-width="0.5"/>
<line x1="1177.3" y1="396.3" x2="1193.5" y2="401.4" stroke="#8f6a20" stroke-width="0.5"/>
<line x1="1167.6" y1="426.8" x2="1183.8" y2="431.9" stroke="#8f6a20" stroke-width="0.5"/>
<polygon points="1060.1,451.2 1085.8,459.4 1062.7,531.8 1037,523.6" fill="#e3ab39" stroke="#8f6a20" stroke-width="0.6" />
<line x1="1052.4" y1="475.4" x2="1078.1" y2="483.6" stroke="#8f6a20" stroke-width="0.5"/>
<line x1="1044.7" y1="499.5" x2="1070.4" y2="507.7" stroke="#8f6a20" stroke-width="0.5"/>
<polygon points="1090,462.9 1154.7,483.5 1132.8,552.1 1068.1,531.4" fill="#e3ab39" stroke="#8f6a20" stroke-width="0.6" />
<line x1="1122.3" y1="473.2" x2="1100.5" y2="541.8" stroke="#8f6a20" stroke-width="0.5"/>
<line x1="1082.7" y1="485.7" x2="1147.4" y2="506.4" stroke="#8f6a20" stroke-width="0.5"/>
<line x1="1075.4" y1="508.6" x2="1140.1" y2="529.3" stroke="#8f6a20" stroke-width="0.5"/>
<polygon points="1164.3,463.5 1172.9,466.2 1144.3,555.8 1135.7,553" fill="#e3ab39" stroke="#8f6a20" stroke-width="0.6" />
<line x1="1154.8" y1="493.3" x2="1163.3" y2="496.1" stroke="#8f6a20" stroke-width="0.5"/>
<line x1="1145.2" y1="523.2" x2="1153.8" y2="525.9" stroke="#8f6a20" stroke-width="0.5"/>
<text x="1118" y="458" font-size="21" fill="#7a7a7a" font-weight="bold" text-anchor="middle" font-family="Liberation Sans" transform="rotate(17 1118 458)" stroke="#7a7a7a" stroke-width="0.35" style="mix-blend-mode:multiply">F−3F</text>
<text x="1111" y="480" font-size="17.5" fill="#7a7a7a" font-weight="bold" text-anchor="middle" font-family="Liberation Sans" transform="rotate(17 1111 480)" stroke="#7a7a7a" stroke-width="0.35" style="mix-blend-mode:multiply">办公家具区</text>
<text x="1188" y="243" font-size="21" fill="#7a7a7a" font-weight="bold" text-anchor="middle" font-family="Liberation Sans" transform="rotate(15 1188 243)" stroke="#7a7a7a" stroke-width="0.35" style="mix-blend-mode:multiply">E−3F</text>
<text x="1182" y="263" font-size="17.5" fill="#7a7a7a" font-weight="bold" text-anchor="middle" font-family="Liberation Sans" transform="rotate(15 1182 263)" stroke="#7a7a7a" stroke-width="0.35" style="mix-blend-mode:multiply">软体</text>
<text x="1174" y="285" font-size="17.5" fill="#7a7a7a" font-weight="bold" text-anchor="middle" font-family="Liberation Sans" transform="rotate(15 1174 285)" stroke="#7a7a7a" stroke-width="0.35" style="mix-blend-mode:multiply">客厅家具区</text>
<text x="1198" y="479" font-size="8.5" fill="#333" font-weight="bold" text-anchor="start" font-family="Liberation Serif" >F −3F</text>
<text x="1151" y="626" font-size="8.5" fill="#333" font-weight="bold" text-anchor="start" font-family="Liberation Serif" >G −3F</text>
<polygon points="1038,541.8 1042.4,543.2 1022.8,604.5 1018.4,603.1" fill="#e49c46" stroke="#94581f" stroke-width="0.6" />
<line x1="1036.6" y1="546.2" x2="1041" y2="547.6" stroke="#94581f" stroke-width="0.55"/>
<line x1="1035.2" y1="550.6" x2="1039.6" y2="552" stroke="#94581f" stroke-width="0.55"/>
<line x1="1033.8" y1="554.9" x2="1038.2" y2="556.3" stroke="#94581f" stroke-width="0.55"/>
<line x1="1032.4" y1="559.3" x2="1036.8" y2="560.7" stroke="#94581f" stroke-width="0.55"/>
<line x1="1031" y1="563.7" x2="1035.4" y2="565.1" stroke="#94581f" stroke-width="0.55"/>
<line x1="1029.6" y1="568.1" x2="1034" y2="569.5" stroke="#94581f" stroke-width="0.55"/>
<line x1="1028.2" y1="572.5" x2="1032.6" y2="573.9" stroke="#94581f" stroke-width="0.55"/>
<line x1="1026.8" y1="576.9" x2="1031.2" y2="578.3" stroke="#94581f" stroke-width="0.55"/>
<line x1="1025.4" y1="581.2" x2="1029.8" y2="582.6" stroke="#94581f" stroke-width="0.55"/>
<line x1="1024" y1="585.6" x2="1028.4" y2="587" stroke="#94581f" stroke-width="0.55"/>
<line x1="1022.6" y1="590" x2="1027" y2="591.4" stroke="#94581f" stroke-width="0.55"/>
<line x1="1021.2" y1="594.4" x2="1025.6" y2="595.8" stroke="#94581f" stroke-width="0.55"/>
<line x1="1019.8" y1="598.8" x2="1024.2" y2="600.2" stroke="#94581f" stroke-width="0.55"/>
<polygon points="1139.1,563.6 1143.5,565 1117.8,645.6 1113.3,644.1" fill="#e49c46" stroke="#94581f" stroke-width="0.6" />
<line x1="1137.6" y1="568" x2="1142.1" y2="569.5" stroke="#94581f" stroke-width="0.55"/>
<line x1="1136.2" y1="572.5" x2="1140.7" y2="573.9" stroke="#94581f" stroke-width="0.55"/>
<line x1="1134.8" y1="577" x2="1139.3" y2="578.4" stroke="#94581f" stroke-width="0.55"/>
<line x1="1133.3" y1="581.5" x2="1137.8" y2="582.9" stroke="#94581f" stroke-width="0.55"/>
<line x1="1131.9" y1="585.9" x2="1136.4" y2="587.4" stroke="#94581f" stroke-width="0.55"/>
<line x1="1130.5" y1="590.4" x2="1135" y2="591.8" stroke="#94581f" stroke-width="0.55"/>
<line x1="1129.1" y1="594.9" x2="1133.5" y2="596.3" stroke="#94581f" stroke-width="0.55"/>
<line x1="1127.6" y1="599.4" x2="1132.1" y2="600.8" stroke="#94581f" stroke-width="0.55"/>
<line x1="1126.2" y1="603.9" x2="1130.7" y2="605.3" stroke="#94581f" stroke-width="0.55"/>
<line x1="1124.8" y1="608.3" x2="1129.3" y2="609.8" stroke="#94581f" stroke-width="0.55"/>
<line x1="1123.3" y1="612.8" x2="1127.8" y2="614.2" stroke="#94581f" stroke-width="0.55"/>
<line x1="1121.9" y1="617.3" x2="1126.4" y2="618.7" stroke="#94581f" stroke-width="0.55"/>
<line x1="1120.5" y1="621.8" x2="1125" y2="623.2" stroke="#94581f" stroke-width="0.55"/>
<line x1="1119.1" y1="626.2" x2="1123.5" y2="627.7" stroke="#94581f" stroke-width="0.55"/>
<line x1="1117.6" y1="630.7" x2="1122.1" y2="632.1" stroke="#94581f" stroke-width="0.55"/>
<line x1="1116.2" y1="635.2" x2="1120.7" y2="636.6" stroke="#94581f" stroke-width="0.55"/>
<line x1="1114.8" y1="639.7" x2="1119.3" y2="641.1" stroke="#94581f" stroke-width="0.55"/>
<polygon points="1019.8,616.8 1112.7,646.4 1111.2,650.9 1018.4,621.2" fill="#e49c46" stroke="#94581f" stroke-width="0.6" />
<line x1="1024.2" y1="618.2" x2="1022.8" y2="622.7" stroke="#94581f" stroke-width="0.55"/>
<line x1="1028.7" y1="619.6" x2="1027.3" y2="624.1" stroke="#94581f" stroke-width="0.55"/>
<line x1="1033.1" y1="621.1" x2="1031.7" y2="625.5" stroke="#94581f" stroke-width="0.55"/>
<line x1="1037.5" y1="622.5" x2="1036.1" y2="626.9" stroke="#94581f" stroke-width="0.55"/>
<line x1="1041.9" y1="623.9" x2="1040.5" y2="628.3" stroke="#94581f" stroke-width="0.55"/>
<line x1="1046.3" y1="625.3" x2="1044.9" y2="629.7" stroke="#94581f" stroke-width="0.55"/>
<line x1="1050.8" y1="626.7" x2="1049.4" y2="631.1" stroke="#94581f" stroke-width="0.55"/>
<line x1="1055.2" y1="628.1" x2="1053.8" y2="632.5" stroke="#94581f" stroke-width="0.55"/>
<line x1="1059.6" y1="629.5" x2="1058.2" y2="633.9" stroke="#94581f" stroke-width="0.55"/>
<line x1="1064" y1="630.9" x2="1062.6" y2="635.3" stroke="#94581f" stroke-width="0.55"/>
<line x1="1068.4" y1="632.3" x2="1067" y2="636.8" stroke="#94581f" stroke-width="0.55"/>
<line x1="1072.9" y1="633.8" x2="1071.5" y2="638.2" stroke="#94581f" stroke-width="0.55"/>
<line x1="1077.3" y1="635.2" x2="1075.9" y2="639.6" stroke="#94581f" stroke-width="0.55"/>
<line x1="1081.7" y1="636.6" x2="1080.3" y2="641" stroke="#94581f" stroke-width="0.55"/>
<line x1="1086.1" y1="638" x2="1084.7" y2="642.4" stroke="#94581f" stroke-width="0.55"/>
<line x1="1090.6" y1="639.4" x2="1089.1" y2="643.8" stroke="#94581f" stroke-width="0.55"/>
<line x1="1095" y1="640.8" x2="1093.6" y2="645.2" stroke="#94581f" stroke-width="0.55"/>
<line x1="1099.4" y1="642.2" x2="1098" y2="646.6" stroke="#94581f" stroke-width="0.55"/>
<line x1="1103.8" y1="643.6" x2="1102.4" y2="648" stroke="#94581f" stroke-width="0.55"/>
<line x1="1108.2" y1="645" x2="1106.8" y2="649.5" stroke="#94581f" stroke-width="0.55"/>
<polygon points="1050.8,535.4 1059.6,538.2 1052.6,560.1 1043.9,557.3" fill="#e49c46" stroke="#94581f" stroke-width="0.6" />
<line x1="1055.2" y1="536.8" x2="1048.2" y2="558.7" stroke="#94581f" stroke-width="0.55"/>
<line x1="1049.5" y1="539.8" x2="1058.2" y2="542.6" stroke="#94581f" stroke-width="0.55"/>
<line x1="1048.1" y1="544.2" x2="1056.8" y2="547" stroke="#94581f" stroke-width="0.55"/>
<line x1="1046.7" y1="548.5" x2="1055.4" y2="551.3" stroke="#94581f" stroke-width="0.55"/>
<line x1="1045.3" y1="552.9" x2="1054" y2="555.7" stroke="#94581f" stroke-width="0.55"/>
<polygon points="1042,563 1050.8,565.8 1035.4,614 1026.6,611.2" fill="#e49c46" stroke="#94581f" stroke-width="0.6" />
<line x1="1046.4" y1="564.4" x2="1031" y2="612.6" stroke="#94581f" stroke-width="0.55"/>
<line x1="1040.6" y1="567.4" x2="1049.4" y2="570.2" stroke="#94581f" stroke-width="0.55"/>
<line x1="1039.2" y1="571.8" x2="1048" y2="574.6" stroke="#94581f" stroke-width="0.55"/>
<line x1="1037.8" y1="576.2" x2="1046.6" y2="579" stroke="#94581f" stroke-width="0.55"/>
<line x1="1036.4" y1="580.6" x2="1045.2" y2="583.4" stroke="#94581f" stroke-width="0.55"/>
<line x1="1035" y1="584.9" x2="1043.8" y2="587.7" stroke="#94581f" stroke-width="0.55"/>
<line x1="1033.6" y1="589.3" x2="1042.4" y2="592.1" stroke="#94581f" stroke-width="0.55"/>
<line x1="1032.2" y1="593.7" x2="1041" y2="596.5" stroke="#94581f" stroke-width="0.55"/>
<line x1="1030.8" y1="598.1" x2="1039.6" y2="600.9" stroke="#94581f" stroke-width="0.55"/>
<line x1="1029.4" y1="602.5" x2="1038.2" y2="605.3" stroke="#94581f" stroke-width="0.55"/>
<line x1="1028" y1="606.8" x2="1036.8" y2="609.6" stroke="#94581f" stroke-width="0.55"/>
<polygon points="1065.7,540.1 1074.5,542.9 1067.5,564.9 1058.7,562.1" fill="#e49c46" stroke="#94581f" stroke-width="0.6" />
<line x1="1070.1" y1="541.5" x2="1063.1" y2="563.5" stroke="#94581f" stroke-width="0.55"/>
<line x1="1064.3" y1="544.5" x2="1073.1" y2="547.3" stroke="#94581f" stroke-width="0.55"/>
<line x1="1062.9" y1="548.9" x2="1071.7" y2="551.7" stroke="#94581f" stroke-width="0.55"/>
<line x1="1061.5" y1="553.3" x2="1070.3" y2="556.1" stroke="#94581f" stroke-width="0.55"/>
<line x1="1060.1" y1="557.7" x2="1068.9" y2="560.5" stroke="#94581f" stroke-width="0.55"/>
<polygon points="1056.9,567.8 1065.7,570.6 1050.3,618.8 1041.5,616" fill="#e49c46" stroke="#94581f" stroke-width="0.6" />
<line x1="1061.3" y1="569.2" x2="1045.9" y2="617.4" stroke="#94581f" stroke-width="0.55"/>
<line x1="1055.5" y1="572.2" x2="1064.3" y2="574.9" stroke="#94581f" stroke-width="0.55"/>
<line x1="1054.1" y1="576.5" x2="1062.9" y2="579.3" stroke="#94581f" stroke-width="0.55"/>
<line x1="1052.7" y1="580.9" x2="1061.5" y2="583.7" stroke="#94581f" stroke-width="0.55"/>
<line x1="1051.3" y1="585.3" x2="1060.1" y2="588.1" stroke="#94581f" stroke-width="0.55"/>
<line x1="1049.9" y1="589.7" x2="1058.7" y2="592.5" stroke="#94581f" stroke-width="0.55"/>
<line x1="1048.5" y1="594.1" x2="1057.3" y2="596.9" stroke="#94581f" stroke-width="0.55"/>
<line x1="1047.1" y1="598.4" x2="1055.9" y2="601.2" stroke="#94581f" stroke-width="0.55"/>
<line x1="1045.7" y1="602.8" x2="1054.5" y2="605.6" stroke="#94581f" stroke-width="0.55"/>
<line x1="1044.3" y1="607.2" x2="1053.1" y2="610" stroke="#94581f" stroke-width="0.55"/>
<line x1="1042.9" y1="611.6" x2="1051.7" y2="614.4" stroke="#94581f" stroke-width="0.55"/>
<polygon points="1080.6,544.9 1089.3,547.7 1082.3,569.6 1073.6,566.8" fill="#e49c46" stroke="#94581f" stroke-width="0.6" />
<line x1="1085" y1="546.3" x2="1078" y2="568.2" stroke="#94581f" stroke-width="0.55"/>
<line x1="1079.2" y1="549.3" x2="1087.9" y2="552.1" stroke="#94581f" stroke-width="0.55"/>
<line x1="1077.8" y1="553.7" x2="1086.5" y2="556.4" stroke="#94581f" stroke-width="0.55"/>
<line x1="1076.4" y1="558" x2="1085.1" y2="560.8" stroke="#94581f" stroke-width="0.55"/>
<line x1="1075" y1="562.4" x2="1083.7" y2="565.2" stroke="#94581f" stroke-width="0.55"/>
<polygon points="1071.8,572.5 1080.5,575.3 1065.1,623.5 1056.4,620.7" fill="#e49c46" stroke="#94581f" stroke-width="0.6" />
<line x1="1076.1" y1="573.9" x2="1060.8" y2="622.1" stroke="#94581f" stroke-width="0.55"/>
<line x1="1070.4" y1="576.9" x2="1079.1" y2="579.7" stroke="#94581f" stroke-width="0.55"/>
<line x1="1069" y1="581.3" x2="1077.7" y2="584.1" stroke="#94581f" stroke-width="0.55"/>
<line x1="1067.6" y1="585.7" x2="1076.3" y2="588.5" stroke="#94581f" stroke-width="0.55"/>
<line x1="1066.2" y1="590" x2="1074.9" y2="592.8" stroke="#94581f" stroke-width="0.55"/>
<line x1="1064.8" y1="594.4" x2="1073.5" y2="597.2" stroke="#94581f" stroke-width="0.55"/>
<line x1="1063.4" y1="598.8" x2="1072.1" y2="601.6" stroke="#94581f" stroke-width="0.55"/>
<line x1="1062" y1="603.2" x2="1070.7" y2="606" stroke="#94581f" stroke-width="0.55"/>
<line x1="1060.6" y1="607.6" x2="1069.3" y2="610.4" stroke="#94581f" stroke-width="0.55"/>
<line x1="1059.2" y1="612" x2="1067.9" y2="614.8" stroke="#94581f" stroke-width="0.55"/>
<line x1="1057.8" y1="616.3" x2="1066.5" y2="619.1" stroke="#94581f" stroke-width="0.55"/>
<polygon points="1095.4,549.6 1104.2,552.4 1097.2,574.3 1088.4,571.5" fill="#e49c46" stroke="#94581f" stroke-width="0.6" />
<line x1="1099.8" y1="551" x2="1092.8" y2="572.9" stroke="#94581f" stroke-width="0.55"/>
<line x1="1094" y1="554" x2="1102.8" y2="556.8" stroke="#94581f" stroke-width="0.55"/>
<line x1="1092.6" y1="558.4" x2="1101.4" y2="561.2" stroke="#94581f" stroke-width="0.55"/>
<line x1="1091.2" y1="562.8" x2="1100" y2="565.6" stroke="#94581f" stroke-width="0.55"/>
<line x1="1089.8" y1="567.2" x2="1098.6" y2="570" stroke="#94581f" stroke-width="0.55"/>
<polygon points="1086.6,577.3 1095.4,580.1 1080,628.3 1071.2,625.5" fill="#e49c46" stroke="#94581f" stroke-width="0.6" />
<line x1="1091" y1="578.7" x2="1075.6" y2="626.9" stroke="#94581f" stroke-width="0.55"/>
<line x1="1085.2" y1="581.6" x2="1094" y2="584.4" stroke="#94581f" stroke-width="0.55"/>
<line x1="1083.8" y1="586" x2="1092.6" y2="588.8" stroke="#94581f" stroke-width="0.55"/>
<line x1="1082.4" y1="590.4" x2="1091.2" y2="593.2" stroke="#94581f" stroke-width="0.55"/>
<line x1="1081" y1="594.8" x2="1089.8" y2="597.6" stroke="#94581f" stroke-width="0.55"/>
<line x1="1079.6" y1="599.2" x2="1088.4" y2="602" stroke="#94581f" stroke-width="0.55"/>
<line x1="1078.2" y1="603.5" x2="1087" y2="606.3" stroke="#94581f" stroke-width="0.55"/>
<line x1="1076.8" y1="607.9" x2="1085.6" y2="610.7" stroke="#94581f" stroke-width="0.55"/>
<line x1="1075.4" y1="612.3" x2="1084.2" y2="615.1" stroke="#94581f" stroke-width="0.55"/>
<line x1="1074" y1="616.7" x2="1082.8" y2="619.5" stroke="#94581f" stroke-width="0.55"/>
<line x1="1072.6" y1="621.1" x2="1081.4" y2="623.9" stroke="#94581f" stroke-width="0.55"/>
<polygon points="1110.3,554.4 1119.1,557.2 1112.1,579.1 1103.3,576.3" fill="#e49c46" stroke="#94581f" stroke-width="0.6" />
<line x1="1114.7" y1="555.8" x2="1107.7" y2="577.7" stroke="#94581f" stroke-width="0.55"/>
<line x1="1108.9" y1="558.8" x2="1117.7" y2="561.6" stroke="#94581f" stroke-width="0.55"/>
<line x1="1107.5" y1="563.1" x2="1116.3" y2="565.9" stroke="#94581f" stroke-width="0.55"/>
<line x1="1106.1" y1="567.5" x2="1114.9" y2="570.3" stroke="#94581f" stroke-width="0.55"/>
<line x1="1104.7" y1="571.9" x2="1113.5" y2="574.7" stroke="#94581f" stroke-width="0.55"/>
<polygon points="1101.5,582 1110.2,584.8 1094.9,633 1086.1,630.2" fill="#e49c46" stroke="#94581f" stroke-width="0.6" />
<line x1="1105.9" y1="583.4" x2="1090.5" y2="631.6" stroke="#94581f" stroke-width="0.55"/>
<line x1="1100.1" y1="586.4" x2="1108.8" y2="589.2" stroke="#94581f" stroke-width="0.55"/>
<line x1="1098.7" y1="590.8" x2="1107.4" y2="593.6" stroke="#94581f" stroke-width="0.55"/>
<line x1="1097.3" y1="595.1" x2="1106" y2="597.9" stroke="#94581f" stroke-width="0.55"/>
<line x1="1095.9" y1="599.5" x2="1104.6" y2="602.3" stroke="#94581f" stroke-width="0.55"/>
<line x1="1094.5" y1="603.9" x2="1103.2" y2="606.7" stroke="#94581f" stroke-width="0.55"/>
<line x1="1093.1" y1="608.3" x2="1101.9" y2="611.1" stroke="#94581f" stroke-width="0.55"/>
<line x1="1091.7" y1="612.7" x2="1100.5" y2="615.5" stroke="#94581f" stroke-width="0.55"/>
<line x1="1090.3" y1="617.1" x2="1099.1" y2="619.9" stroke="#94581f" stroke-width="0.55"/>
<line x1="1088.9" y1="621.4" x2="1097.7" y2="624.2" stroke="#94581f" stroke-width="0.55"/>
<line x1="1087.5" y1="625.8" x2="1096.3" y2="628.6" stroke="#94581f" stroke-width="0.55"/>
<polygon points="1125.2,559.1 1133.9,561.9 1126.9,583.8 1118.2,581" fill="#e49c46" stroke="#94581f" stroke-width="0.6" />
<line x1="1129.5" y1="560.5" x2="1122.5" y2="582.4" stroke="#94581f" stroke-width="0.55"/>
<line x1="1123.8" y1="563.5" x2="1132.5" y2="566.3" stroke="#94581f" stroke-width="0.55"/>
<line x1="1122.4" y1="567.9" x2="1131.1" y2="570.7" stroke="#94581f" stroke-width="0.55"/>
<line x1="1121" y1="572.3" x2="1129.7" y2="575.1" stroke="#94581f" stroke-width="0.55"/>
<line x1="1119.6" y1="576.6" x2="1128.3" y2="579.4" stroke="#94581f" stroke-width="0.55"/>
<polygon points="1116.3,586.7 1125.1,589.5 1109.7,637.7 1101,634.9" fill="#e49c46" stroke="#94581f" stroke-width="0.6" />
<line x1="1120.7" y1="588.1" x2="1105.3" y2="636.3" stroke="#94581f" stroke-width="0.55"/>
<line x1="1114.9" y1="591.1" x2="1123.7" y2="593.9" stroke="#94581f" stroke-width="0.55"/>
<line x1="1113.5" y1="595.5" x2="1122.3" y2="598.3" stroke="#94581f" stroke-width="0.55"/>
<line x1="1112.1" y1="599.9" x2="1120.9" y2="602.7" stroke="#94581f" stroke-width="0.55"/>
<line x1="1110.7" y1="604.3" x2="1119.5" y2="607.1" stroke="#94581f" stroke-width="0.55"/>
<line x1="1109.3" y1="608.7" x2="1118.1" y2="611.5" stroke="#94581f" stroke-width="0.55"/>
<line x1="1107.9" y1="613" x2="1116.7" y2="615.8" stroke="#94581f" stroke-width="0.55"/>
<line x1="1106.5" y1="617.4" x2="1115.3" y2="620.2" stroke="#94581f" stroke-width="0.55"/>
<line x1="1105.2" y1="621.8" x2="1113.9" y2="624.6" stroke="#94581f" stroke-width="0.55"/>
<line x1="1103.8" y1="626.2" x2="1112.5" y2="629" stroke="#94581f" stroke-width="0.55"/>
<line x1="1102.4" y1="630.6" x2="1111.1" y2="633.4" stroke="#94581f" stroke-width="0.55"/>
<text x="1082" y="577" font-size="21" fill="#7a7a7a" font-weight="bold" text-anchor="middle" font-family="Liberation Sans" transform="rotate(17 1082 577)" stroke="#7a7a7a" stroke-width="0.35" style="mix-blend-mode:multiply">G−3F</text>
<text x="1075.5" y="601.5" font-size="17.5" fill="#7a7a7a" font-weight="bold" text-anchor="middle" font-family="Liberation Sans" transform="rotate(17 1075.5 601.5)" stroke="#7a7a7a" stroke-width="0.35" style="mix-blend-mode:multiply">原辅材料区</text>
<polygon points="1024.2,635.8 1099.2,654.8 1080.2,722 1007.5,700.7" fill="#f0f0d2" stroke="#aaa" stroke-width="0.6" />
<text x="1053" y="686" font-size="12.5" fill="#222" font-weight="bold" text-anchor="middle" font-family="Liberation Serif" transform="rotate(11 1053 686)" stroke="#222" stroke-width="0.2">多 功 能 室</text>
<polyline points="1009.8,620 1113.8,648.1 1085.8,754.5 1053.3,745.5" fill="none" stroke="#999" stroke-width="0.7"/>
<polyline points="1005,625 985,700 1010,707 1014,720 1030,722 1080,737 1085,728" fill="none" stroke="#c9a070" stroke-width="0.7"/>
<polyline points="1020,627 998,703" fill="none" stroke="#99aacc" stroke-width="0.6"/>
<polyline points="1103,652 1080,740" fill="none" stroke="#99aacc" stroke-width="0.6"/>
<polyline points="900,720.9 960,720 1052.2,728.7" fill="none" stroke="#999" stroke-width="0.7"/>
<polyline points="973.9,691.8 953.7,750" fill="none" stroke="#b08070" stroke-width="0.7"/>
<polyline points="973.9,691.8 987,694" fill="none" stroke="#b08070" stroke-width="0.7"/>
<polyline points="978,730 1010,735 1005,752" fill="none" stroke="#b08070" stroke-width="0.6"/>
<polyline points="1053,746 1086,755" fill="none" stroke="#c08060" stroke-width="0.6"/>
<polyline points="943.5,325.2 1064.6,345.4 1066,349 1004,560 990,610" fill="none" stroke="#8c8c8c" stroke-width="0.8"/>
<polyline points="943.5,338.7 1064.6,350" fill="none" stroke="#8c8c8c" stroke-width="0.6"/>
<polyline points="943.5,325.2 943.5,338.7" fill="none" stroke="#8c8c8c" stroke-width="0.6"/>
<polyline points="960.8,328.1 960.8,341.6" fill="none" stroke="#8c8c8c" stroke-width="0.6"/>
<polyline points="978.1,331 978.1,344.5" fill="none" stroke="#8c8c8c" stroke-width="0.6"/>
<polyline points="995.4,333.9 995.4,347.4" fill="none" stroke="#8c8c8c" stroke-width="0.6"/>
<polyline points="1012.7,336.8 1012.7,350.3" fill="none" stroke="#8c8c8c" stroke-width="0.6"/>
<polyline points="1030,339.7 1030,353.2" fill="none" stroke="#8c8c8c" stroke-width="0.6"/>
<polyline points="1047.3,342.6 1047.3,356.1" fill="none" stroke="#8c8c8c" stroke-width="0.6"/>
<polyline points="955.2,338.7 948.5,390.8 930,392.5" fill="none" stroke="#8c8c8c" stroke-width="0.8"/>
<polyline points="1094.9,343.7 1041,528.8 1030,560" fill="none" stroke="#8c8c8c" stroke-width="0.7"/>
<polyline points="1020.8,478.3 1007.4,532.2" fill="none" stroke="#8c8c8c" stroke-width="0.7"/>
<polyline points="1009.8,619.7 992.6,680" fill="none" stroke="#8c8c8c" stroke-width="0.6"/>
<g transform="rotate(8 983 310.9)">
<rect x="973.7" y="303.4" width="18.5" height="15.1" fill="#ffffff" stroke="#808080" stroke-width="0.6" />
<circle cx="980.5" cy="307" r="1" fill="#111"/>
<path d="M979.1,308.3 h2.8 v4.2 h-0.5 v3.5 h-1.8 v-3.5 h-0.5 Z" fill="#111"/>
<circle cx="985.4" cy="307" r="1" fill="#111"/>
<path d="M984.4,308.3 L986.4,308.3 L987.1,312.9 L983.7,312.9 Z" fill="#111"/>
<rect x="984.6" y="312.9" width="1.6" height="3" fill="#111"/>
<line x1="983" y1="306" x2="983" y2="315.9" stroke="#333" stroke-width="0.4"/>
</g>
<g transform="rotate(8 1028.5 319.4)">
<rect x="1019.2" y="311.8" width="18.5" height="15.1" fill="#ffffff" stroke="#808080" stroke-width="0.6" />
<circle cx="1026" cy="315.4" r="1" fill="#111"/>
<path d="M1024.6,316.7 h2.8 v4.2 h-0.5 v3.5 h-1.8 v-3.5 h-0.5 Z" fill="#111"/>
<circle cx="1030.9" cy="315.4" r="1" fill="#111"/>
<path d="M1029.9,316.7 L1031.9,316.7 L1032.6,321.3 L1029.2,321.3 Z" fill="#111"/>
<rect x="1030.1" y="321.3" width="1.6" height="3" fill="#111"/>
<line x1="1028.5" y1="314.4" x2="1028.5" y2="324.3" stroke="#333" stroke-width="0.4"/>
</g>
<g transform="rotate(16 1062 430.4)">
<rect x="1052.8" y="419.4" width="18.5" height="21.9" fill="#ffffff" stroke="#808080" stroke-width="0.6" />
<circle cx="1058.6" cy="424.8" r="1.4" fill="#111"/>
<path d="M1056.6,426.6 h3.9 v5.8 h-0.7 v4.9 h-2.5 v-4.9 h-0.7 Z" fill="#111"/>
<circle cx="1065.5" cy="424.8" r="1.4" fill="#111"/>
<path d="M1064.1,426.6 L1066.9,426.6 L1067.9,433.1 L1063.2,433.1 Z" fill="#111"/>
<rect x="1064.4" y="433.1" width="2.2" height="4.2" fill="#111"/>
<line x1="1062" y1="423.4" x2="1062" y2="437.3" stroke="#333" stroke-width="0.4"/>
</g>
<g transform="rotate(16 1050.2 466.6)">
<rect x="1041" y="458.1" width="18.5" height="16.9" fill="#ffffff" stroke="#808080" stroke-width="0.6" />
<circle cx="1047.5" cy="462.1" r="1.1" fill="#111"/>
<path d="M1045.9,463.5 h3.1 v4.7 h-0.6 v3.9 h-2 v-3.9 h-0.6 Z" fill="#111"/>
<circle cx="1053" cy="462.1" r="1.1" fill="#111"/>
<path d="M1051.9,463.5 L1054.2,463.5 L1054.9,468.8 L1051.1,468.8 Z" fill="#111"/>
<rect x="1052.1" y="468.8" width="1.8" height="3.3" fill="#111"/>
<line x1="1050.2" y1="461" x2="1050.2" y2="472.1" stroke="#333" stroke-width="0.4"/>
</g>
<g transform="rotate(16 1084.8 357.2)">
<rect x="1076.4" y="352.2" width="16.8" height="10" fill="#ffffff" stroke="#808080" stroke-width="0.6" />
<circle cx="1083.2" cy="354.6" r="0.7" fill="#111"/>
<path d="M1082.2,355.4 h1.8 v2.8 h-0.3 v2.3 h-1.2 v-2.3 h-0.3 Z" fill="#111"/>
<circle cx="1086.5" cy="354.6" r="0.7" fill="#111"/>
<path d="M1085.8,355.4 L1087.1,355.4 L1087.6,358.5 L1085.3,358.5 Z" fill="#111"/>
<rect x="1085.9" y="358.5" width="1.1" height="2" fill="#111"/>
<line x1="1084.8" y1="353.9" x2="1084.8" y2="360.5" stroke="#333" stroke-width="0.4"/>
</g>
<g transform="rotate(16 1034.6 519.8)">
<rect x="1027" y="516" width="15.2" height="7.6" fill="#ffffff" stroke="#808080" stroke-width="0.6" />
<circle cx="1033.3" cy="517.8" r="0.5" fill="#111"/>
<path d="M1032.6,518.4 h1.4 v2.1 h-0.3 v1.8 h-0.9 v-1.8 h-0.3 Z" fill="#111"/>
<circle cx="1035.9" cy="517.8" r="0.5" fill="#111"/>
<path d="M1035.4,518.4 L1036.4,518.4 L1036.7,520.8 L1035,520.8 Z" fill="#111"/>
<rect x="1035.5" y="520.8" width="0.8" height="1.5" fill="#111"/>
<line x1="1034.6" y1="517.3" x2="1034.6" y2="522.3" stroke="#333" stroke-width="0.4"/>
</g>
<g transform="rotate(16 1024.2 550.1)">
<rect x="1017.6" y="544.4" width="13.3" height="11.4" fill="#ffffff" stroke="#808080" stroke-width="0.6" />
<circle cx="1022.4" cy="547.1" r="0.8" fill="#111"/>
<path d="M1021.3,548.1 h2.1 v3.2 h-0.4 v2.6 h-1.4 v-2.6 h-0.4 Z" fill="#111"/>
<circle cx="1026.1" cy="547.1" r="0.8" fill="#111"/>
<path d="M1025.4,548.1 L1026.9,548.1 L1027.4,551.6 L1024.9,551.6 Z" fill="#111"/>
<rect x="1025.5" y="551.6" width="1.2" height="2.3" fill="#111"/>
<line x1="1024.2" y1="546.3" x2="1024.2" y2="553.9" stroke="#333" stroke-width="0.4"/>
</g>
<g transform="rotate(16 1020.4 570)">
<rect x="1013.7" y="563.4" width="13.3" height="13.3" fill="#ffffff" stroke="#808080" stroke-width="0.6" />
<circle cx="1018.2" cy="566.5" r="0.9" fill="#111"/>
<path d="M1016.9,567.7 h2.5 v3.7 h-0.4 v3.1 h-1.6 v-3.1 h-0.4 Z" fill="#111"/>
<circle cx="1022.5" cy="566.5" r="0.9" fill="#111"/>
<path d="M1021.7,567.7 L1023.4,567.7 L1024,571.8 L1021.1,571.8 Z" fill="#111"/>
<rect x="1021.8" y="571.8" width="1.4" height="2.6" fill="#111"/>
<line x1="1020.4" y1="565.7" x2="1020.4" y2="574.4" stroke="#333" stroke-width="0.4"/>
</g>
<g transform="rotate(16 1009 599.7)">
<rect x="1002.4" y="595.9" width="13.3" height="7.6" fill="#ffffff" stroke="#808080" stroke-width="0.6" />
<circle cx="1007.8" cy="597.7" r="0.5" fill="#111"/>
<path d="M1007.1,598.3 h1.4 v2.1 h-0.3 v1.8 h-0.9 v-1.8 h-0.3 Z" fill="#111"/>
<circle cx="1010.3" cy="597.7" r="0.5" fill="#111"/>
<path d="M1009.8,598.3 L1010.8,598.3 L1011.2,600.7 L1009.5,600.7 Z" fill="#111"/>
<rect x="1009.9" y="600.7" width="0.8" height="1.5" fill="#111"/>
<line x1="1009" y1="597.2" x2="1009" y2="602.2" stroke="#333" stroke-width="0.4"/>
</g>
<polygon points="994.8,570.6 1002.9,572.4 979.6,650.1 970,648.4" fill="#e04e23" stroke="none" stroke-width="0.6" />
<text x="993" y="594" font-size="6" fill="#fff" font-weight="bold" text-anchor="middle" font-family="Liberation Serif" >餐</text>
<text x="986" y="616" font-size="6" fill="#fff" font-weight="bold" text-anchor="middle" font-family="Liberation Serif" >饮</text>
<text x="979" y="638" font-size="6" fill="#fff" font-weight="bold" text-anchor="middle" font-family="Liberation Serif" >区</text>
<g transform="translate(943.7 366) rotate(-30)"><rect x="-5" y="-1.6" width="10" height="3.2" rx="1.6" fill="#fff" stroke="#333" stroke-width="0.7"/><line x1="-3" y1="0" x2="3" y2="0" stroke="#333" stroke-width="0.6"/></g>
<g transform="translate(1091 329) rotate(-30)"><rect x="-5" y="-1.6" width="10" height="3.2" rx="1.6" fill="#fff" stroke="#333" stroke-width="0.7"/><line x1="-3" y1="0" x2="3" y2="0" stroke="#333" stroke-width="0.6"/></g>
<g transform="translate(782.3 393.2) rotate(-30)"><rect x="-5" y="-1.6" width="10" height="3.2" rx="1.6" fill="#fff" stroke="#333" stroke-width="0.7"/><line x1="-3" y1="0" x2="3" y2="0" stroke="#333" stroke-width="0.6"/></g>
<g transform="translate(1007 548) rotate(-30)"><rect x="-5" y="-1.6" width="10" height="3.2" rx="1.6" fill="#fff" stroke="#333" stroke-width="0.7"/><line x1="-3" y1="0" x2="3" y2="0" stroke="#333" stroke-width="0.6"/></g>
<g transform="translate(972.7 661.5) rotate(-30)"><rect x="-5" y="-1.6" width="10" height="3.2" rx="1.6" fill="#fff" stroke="#333" stroke-width="0.7"/><line x1="-3" y1="0" x2="3" y2="0" stroke="#333" stroke-width="0.6"/></g>
<g transform="translate(989.5 733) rotate(-30)"><rect x="-5" y="-1.6" width="10" height="3.2" rx="1.6" fill="#fff" stroke="#333" stroke-width="0.7"/><line x1="-3" y1="0" x2="3" y2="0" stroke="#333" stroke-width="0.6"/></g>
<polyline points="1020,482.8 1005.6,520.2 991.2,514.8 989.6,536.2 970.9,530.8 949.5,747.1" fill="none" stroke="#8c8c8c" stroke-width="0.8"/>
<polyline points="1004,538 997,560 970,651 968,660" fill="none" stroke="#8c8c8c" stroke-width="0.7"/>
<polyline points="1000,566 977,646" fill="none" stroke="#cc8866" stroke-width="0.5"/>
<polyline points="795.5,400 795.5,427" fill="none" stroke="#8c8c8c" stroke-width="0.7"/>
<polyline points="1011,617 1002,648 990,690" fill="none" stroke="#8c8c8c" stroke-width="0.6"/>
<polyline points="1100.2,667.7 1109.7,670.7" fill="none" stroke="#9aa7c0" stroke-width="0.6"/>
<polyline points="1095.6,681.9 1105.1,685" fill="none" stroke="#9aa7c0" stroke-width="0.6"/>
<polyline points="1091.1,696.2 1100.6,699.3" fill="none" stroke="#9aa7c0" stroke-width="0.6"/>
<polyline points="1086.8,709.6 1096.3,712.6" fill="none" stroke="#9aa7c0" stroke-width="0.6"/>
<polyline points="1082.5,722.9 1092.1,726" fill="none" stroke="#9aa7c0" stroke-width="0.6"/>
<polyline points="1103.2,658.1 1079.5,732.4" fill="none" stroke="#9aa7c0" stroke-width="0.6"/>
<polyline points="1029.6,625.7 1027.6,631.9" fill="none" stroke="#9aa7c0" stroke-width="0.6"/>
<polyline points="1044.8,630.6 1042.9,636.8" fill="none" stroke="#9aa7c0" stroke-width="0.6"/>
<polyline points="1060.1,635.4 1058.1,641.6" fill="none" stroke="#9aa7c0" stroke-width="0.6"/>
<polyline points="1075.3,640.3 1073.3,646.5" fill="none" stroke="#9aa7c0" stroke-width="0.6"/>
<polyline points="1090.6,645.2 1088.6,651.4" fill="none" stroke="#9aa7c0" stroke-width="0.6"/>
<polyline points="1020.9,629.8 1106.7,657.1" fill="none" stroke="#9aa7c0" stroke-width="0.5"/>
</svg>
</body></html>
